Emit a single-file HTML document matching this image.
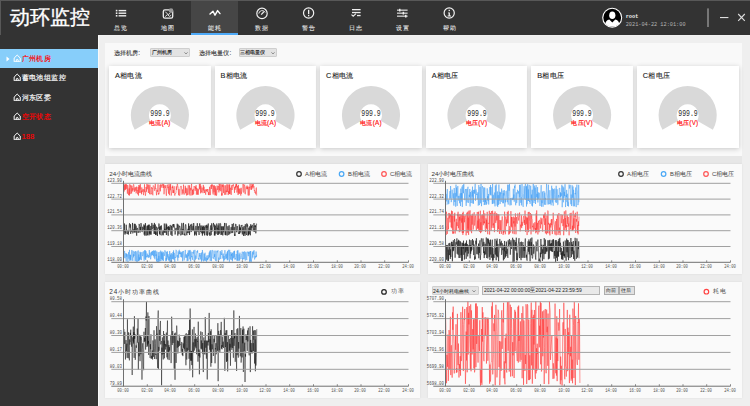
<!DOCTYPE html><html><head><meta charset="utf-8"><style>
*{margin:0;padding:0;box-sizing:border-box}
html,body{width:750px;height:406px;overflow:hidden;background:#e6e6e6;font-family:"Liberation Sans",sans-serif}
.a{position:absolute}
.t{position:absolute;white-space:nowrap;line-height:1}
</style></head><body>
<div class="a" style="left:0;top:0;width:750px;height:35px;background:#333;border-top:1px solid #585858;border-left:1px solid #585858"></div>
<div class="t" style="left:10px;top:7.8px;font-size:19.5px;color:#fff;-webkit-text-stroke:0.35px #fff">动环监控</div>
<div class="a" style="left:191px;top:1px;width:47px;height:34px;background:#464646"></div>
<div class="a" style="left:191px;top:33px;width:47px;height:2px;background:#4eaaf8"></div>
<div class="t" style="left:100.5px;width:40px;text-align:center;top:25.7px;font-size:5.6px;letter-spacing:1.8px;text-indent:1.8px;color:#f0f0f0;-webkit-text-stroke:0.06px #eee">总览</div>
<div class="t" style="left:147.5px;width:40px;text-align:center;top:25.7px;font-size:5.6px;letter-spacing:1.8px;text-indent:1.8px;color:#f0f0f0;-webkit-text-stroke:0.06px #eee">地图</div>
<div class="t" style="left:194.5px;width:40px;text-align:center;top:25.7px;font-size:5.6px;letter-spacing:1.8px;text-indent:1.8px;color:#f0f0f0;-webkit-text-stroke:0.06px #eee">能耗</div>
<div class="t" style="left:241.5px;width:40px;text-align:center;top:25.7px;font-size:5.6px;letter-spacing:1.8px;text-indent:1.8px;color:#f0f0f0;-webkit-text-stroke:0.06px #eee">数据</div>
<div class="t" style="left:288.5px;width:40px;text-align:center;top:25.7px;font-size:5.6px;letter-spacing:1.8px;text-indent:1.8px;color:#f0f0f0;-webkit-text-stroke:0.06px #eee">警告</div>
<div class="t" style="left:335.5px;width:40px;text-align:center;top:25.7px;font-size:5.6px;letter-spacing:1.8px;text-indent:1.8px;color:#f0f0f0;-webkit-text-stroke:0.06px #eee">日志</div>
<div class="t" style="left:382.5px;width:40px;text-align:center;top:25.7px;font-size:5.6px;letter-spacing:1.8px;text-indent:1.8px;color:#f0f0f0;-webkit-text-stroke:0.06px #eee">设置</div>
<div class="t" style="left:429.5px;width:40px;text-align:center;top:25.7px;font-size:5.6px;letter-spacing:1.8px;text-indent:1.8px;color:#f0f0f0;-webkit-text-stroke:0.06px #eee">帮助</div>
<svg class="a" style="left:0;top:0" width="750" height="35" viewBox="0 0 750 35">
<g fill="#eee">
<rect x="115.8" y="9.8" width="1.6" height="1.6"/><rect x="115.8" y="12.4" width="1.6" height="1.6"/><rect x="115.8" y="15" width="1.6" height="1.6"/>
<rect x="118.6" y="9.9" width="7.6" height="1.4"/><rect x="118.6" y="12.5" width="7.6" height="1.4"/><rect x="118.6" y="15.1" width="7.6" height="1.4"/>
</g>
<g fill="none" stroke="#eee" stroke-width="1.1">
<rect x="163.3" y="9.9" width="9.4" height="8.3" rx="1.6" stroke-width="1.3"/>
<path d="M165.2 11.6 L168.2 14.6 L170.2 13.2" stroke-width="0.9"/><path d="M165.2 16.6 L167.4 14.6 L169.6 16.4 L171.2 15.2" stroke-width="0.9"/>
<circle cx="171" cy="10.6" r="2.3" fill="#9a9a9a" stroke="none"/>
</g>
<path d="M210 14 L213 11.2 L215 15.2 L217.6 10.6 L220 13.6" fill="none" stroke="#fff" stroke-width="1.4" stroke-linejoin="round" stroke-linecap="round"/>
<g fill="none" stroke="#f2f2f2" stroke-width="1.2">
<circle cx="262" cy="13.4" r="5.2"/>
<path d="M258.8 13.6 A3.4 3.4 0 0 1 265.2 12.4" stroke-width="0.9"/>
<path d="M261.2 14.6 L264 11.6" stroke-width="1.3"/>
<circle cx="308.6" cy="13" r="5.1"/>
</g>
<rect x="308" y="9.8" width="1.3" height="4.4" fill="#f2f2f2"/><rect x="308" y="15" width="1.3" height="1.3" fill="#f2f2f2"/>
<g fill="#eee">
<rect x="352" y="9" width="8.6" height="1.3"/><rect x="352" y="11.9" width="8.6" height="1.3"/>
<rect x="357" y="14.9" width="3.6" height="1.3"/>
</g>
<path d="M351.5 14.6 L353.2 16.2 L356 13.6" fill="none" stroke="#eee" stroke-width="1.1"/>
<g fill="#eee">
<rect x="397" y="9.6" width="10.6" height="1.1"/><rect x="397" y="12.6" width="10.6" height="1.1"/><rect x="397" y="15.6" width="10.6" height="1.1"/>
<rect x="399" y="8.8" width="1.5" height="2.7"/><rect x="402.6" y="11.8" width="1.5" height="2.7"/><rect x="405" y="14.8" width="1.5" height="2.7"/>
</g>
<circle cx="449.2" cy="13" r="5.1" fill="none" stroke="#f2f2f2" stroke-width="1.2"/>
<rect x="448.6" y="9.8" width="1.3" height="1.3" fill="#f2f2f2"/><path d="M448 12.4 H449.9 V15.6 H451 V16.5 H447.6 V15.6 H448.6 V13.2 H448 Z" fill="#f2f2f2"/>
<circle cx="612.2" cy="17.7" r="10" fill="#fff"/>
<circle cx="612.2" cy="17.7" r="8.9" fill="#000"/>
<ellipse cx="612.3" cy="15.2" rx="3.1" ry="3.8" fill="#fff"/>
<path d="M605.3 24 Q605.8 20.4 609.3 19.6 L612.3 22.6 L615.3 19.6 Q618.8 20.4 619.2 24 Q616.3 26.6 612.3 26.6 Q608.3 26.6 605.3 24 Z" fill="#fff"/>
<rect x="707" y="8.4" width="2" height="18.6" fill="#777"/>
<rect x="720" y="17" width="8.4" height="1.1" fill="#ddd"/>
<path d="M738.2 14 L744.8 20.8 M744.8 14 L738.2 20.8" stroke="#ddd" stroke-width="1.1"/>
</svg>
<div class="t" style="left:625.7px;top:15.3px;font-family:'Liberation Mono';font-weight:bold;font-size:5.3px;color:#eee">root</div>
<div class="t" style="left:625.7px;top:23.3px;font-family:'Liberation Mono';font-size:5.25px;color:#b4b4b4">2021-04-22 12:01:00</div>
<div class="a" style="left:0;top:35px;width:98px;height:371px;background:#333"></div>
<div class="a" style="left:0;top:49px;width:98px;height:19px;background:#87cefa"></div>
<svg class="a" style="left:12.7px;top:53.6px" width="8.4" height="8.4" viewBox="0 0 8 8"><path d="M1.1 7.4 V3.9 L4 1 L6.9 3.9 V7.4 Z M3.1 7.4 V5.6 Q4 4.6 4.9 5.6 V7.4" fill="none" stroke="#fff" stroke-width="0.95" stroke-linejoin="round"/></svg>
<div class="t" style="left:21.8px;top:54.6px;font-size:7px;letter-spacing:0.35px;color:#f00;-webkit-text-stroke:0.18px #f00">广州机房</div>
<svg class="a" style="left:12.7px;top:73.1px" width="8.4" height="8.4" viewBox="0 0 8 8"><path d="M1.1 7.4 V3.9 L4 1 L6.9 3.9 V7.4 Z M3.1 7.4 V5.6 Q4 4.6 4.9 5.6 V7.4" fill="none" stroke="#fff" stroke-width="0.95" stroke-linejoin="round"/></svg>
<div class="t" style="left:21.8px;top:74.1px;font-size:7px;letter-spacing:0.35px;color:#fff;-webkit-text-stroke:0.18px #fff">蓄电池组监控</div>
<svg class="a" style="left:12.7px;top:92.6px" width="8.4" height="8.4" viewBox="0 0 8 8"><path d="M1.1 7.4 V3.9 L4 1 L6.9 3.9 V7.4 Z M3.1 7.4 V5.6 Q4 4.6 4.9 5.6 V7.4" fill="none" stroke="#fff" stroke-width="0.95" stroke-linejoin="round"/></svg>
<div class="t" style="left:21.8px;top:93.6px;font-size:7px;letter-spacing:0.35px;color:#fff;-webkit-text-stroke:0.18px #fff">河东区委</div>
<svg class="a" style="left:12.7px;top:112.1px" width="8.4" height="8.4" viewBox="0 0 8 8"><path d="M1.1 7.4 V3.9 L4 1 L6.9 3.9 V7.4 Z M3.1 7.4 V5.6 Q4 4.6 4.9 5.6 V7.4" fill="none" stroke="#fff" stroke-width="0.95" stroke-linejoin="round"/></svg>
<div class="t" style="left:21.8px;top:113.1px;font-size:7px;letter-spacing:0.35px;color:#f00;-webkit-text-stroke:0.18px #f00">空开状态</div>
<svg class="a" style="left:12.7px;top:131.6px" width="8.4" height="8.4" viewBox="0 0 8 8"><path d="M1.1 7.4 V3.9 L4 1 L6.9 3.9 V7.4 Z M3.1 7.4 V5.6 Q4 4.6 4.9 5.6 V7.4" fill="none" stroke="#fff" stroke-width="0.95" stroke-linejoin="round"/></svg>
<div class="t" style="left:21.8px;top:132.6px;font-size:7px;letter-spacing:0.35px;color:#f00;-webkit-text-stroke:0.18px #f00">188</div>
<svg class="a" style="left:6px;top:55.5px" width="4" height="6"><path d="M0.5 0.5 L3.5 3 L0.5 5.5 Z" fill="#fff"/></svg>
<div class="a" style="left:98px;top:35px;width:652px;height:371px;background:#efefef;border-left:1px solid #fafafa;border-top:1px solid #f2f2f2"></div>
<div class="a" style="left:105px;top:43px;width:637px;height:113px;background:#f9f9f9"></div>
<div class="t" style="left:113.5px;top:49.8px;font-size:6.3px;letter-spacing:0.2px;color:#333;-webkit-text-stroke:0.1px #333">选择机房<span style="letter-spacing:0">:</span></div>
<div class="a" style="left:150px;top:48px;width:40px;height:8.8px;background:#e3e3e3;border:0.6px solid #cfcfcf;border-radius:1px"></div>
<div class="t" style="left:151.6px;top:51.3px;font-size:4.9px;font-weight:normal;color:#111;-webkit-text-stroke:0.12px #111">广州机房</div>
<svg class="a" style="left:183.8px;top:52.1px" width="5" height="3"><path d="M0.4 0.4 L2 1.9 L3.6 0.4" fill="none" stroke="#666" stroke-width="0.7"/></svg>
<div class="t" style="left:198.5px;top:49.8px;font-size:6.3px;letter-spacing:0.2px;color:#333;-webkit-text-stroke:0.1px #333">选择电量仪<span style="letter-spacing:0">:</span></div>
<div class="a" style="left:238.5px;top:48px;width:38.5px;height:8.8px;background:#e3e3e3;border:0.6px solid #cfcfcf;border-radius:1px"></div>
<div class="t" style="left:240.1px;top:51.3px;font-size:4.9px;font-weight:normal;color:#111;-webkit-text-stroke:0.12px #111">三相电量仪</div>
<svg class="a" style="left:270.8px;top:52.1px" width="5" height="3"><path d="M0.4 0.4 L2 1.9 L3.6 0.4" fill="none" stroke="#666" stroke-width="0.7"/></svg>
<div class="a" style="left:109.0px;top:66px;width:101.8px;height:82px;background:#fff;box-shadow:0 1px 5px rgba(0,0,0,0.2)"></div>
<div class="t" style="left:115.0px;top:71.8px;font-size:7.3px;letter-spacing:0.3px;color:#1a1a1a;-webkit-text-stroke:0.1px #1a1a1a">A相电流</div>
<svg class="a" style="left:0;top:0" width="750" height="160"><path d="M134.70 129.75 A29.1 29.1 0 1 1 185.10 129.75 L169.43 120.70 A11 11 0 1 0 150.37 120.70 Z" fill="#d9d9d9"/></svg>
<div class="t" style="left:139.9px;width:40px;text-align:center;top:110.4px;font-family:Liberation Mono;font-size:9px;transform:scaleX(0.72);color:#2a2a2a">999.9</div>
<div class="t" style="left:144.9px;width:30px;text-align:center;top:120.3px;font-size:6.3px;letter-spacing:0.25px;color:#f11;-webkit-text-stroke:0.15px #f11">电流(A)</div>
<div class="a" style="left:214.55px;top:66px;width:101.8px;height:82px;background:#fff;box-shadow:0 1px 5px rgba(0,0,0,0.2)"></div>
<div class="t" style="left:220.55px;top:71.8px;font-size:7.3px;letter-spacing:0.3px;color:#1a1a1a;-webkit-text-stroke:0.1px #1a1a1a">B相电流</div>
<svg class="a" style="left:0;top:0" width="750" height="160"><path d="M240.25 129.75 A29.1 29.1 0 1 1 290.65 129.75 L274.98 120.70 A11 11 0 1 0 255.92 120.70 Z" fill="#d9d9d9"/></svg>
<div class="t" style="left:245.45px;width:40px;text-align:center;top:110.4px;font-family:Liberation Mono;font-size:9px;transform:scaleX(0.72);color:#2a2a2a">999.9</div>
<div class="t" style="left:250.45px;width:30px;text-align:center;top:120.3px;font-size:6.3px;letter-spacing:0.25px;color:#f11;-webkit-text-stroke:0.15px #f11">电流(A)</div>
<div class="a" style="left:320.1px;top:66px;width:101.8px;height:82px;background:#fff;box-shadow:0 1px 5px rgba(0,0,0,0.2)"></div>
<div class="t" style="left:326.1px;top:71.8px;font-size:7.3px;letter-spacing:0.3px;color:#1a1a1a;-webkit-text-stroke:0.1px #1a1a1a">C相电流</div>
<svg class="a" style="left:0;top:0" width="750" height="160"><path d="M345.80 129.75 A29.1 29.1 0 1 1 396.20 129.75 L380.53 120.70 A11 11 0 1 0 361.47 120.70 Z" fill="#d9d9d9"/></svg>
<div class="t" style="left:351.0px;width:40px;text-align:center;top:110.4px;font-family:Liberation Mono;font-size:9px;transform:scaleX(0.72);color:#2a2a2a">999.9</div>
<div class="t" style="left:356.0px;width:30px;text-align:center;top:120.3px;font-size:6.3px;letter-spacing:0.25px;color:#f11;-webkit-text-stroke:0.15px #f11">电流(A)</div>
<div class="a" style="left:425.65px;top:66px;width:101.8px;height:82px;background:#fff;box-shadow:0 1px 5px rgba(0,0,0,0.2)"></div>
<div class="t" style="left:431.65px;top:71.8px;font-size:7.3px;letter-spacing:0.3px;color:#1a1a1a;-webkit-text-stroke:0.1px #1a1a1a">A相电压</div>
<svg class="a" style="left:0;top:0" width="750" height="160"><path d="M451.35 129.75 A29.1 29.1 0 1 1 501.75 129.75 L486.08 120.70 A11 11 0 1 0 467.02 120.70 Z" fill="#d9d9d9"/></svg>
<div class="t" style="left:456.54999999999995px;width:40px;text-align:center;top:110.4px;font-family:Liberation Mono;font-size:9px;transform:scaleX(0.72);color:#2a2a2a">999.9</div>
<div class="t" style="left:461.54999999999995px;width:30px;text-align:center;top:120.3px;font-size:6.3px;letter-spacing:0.25px;color:#f11;-webkit-text-stroke:0.15px #f11">电压(V)</div>
<div class="a" style="left:531.2px;top:66px;width:101.8px;height:82px;background:#fff;box-shadow:0 1px 5px rgba(0,0,0,0.2)"></div>
<div class="t" style="left:537.2px;top:71.8px;font-size:7.3px;letter-spacing:0.3px;color:#1a1a1a;-webkit-text-stroke:0.1px #1a1a1a">B相电压</div>
<svg class="a" style="left:0;top:0" width="750" height="160"><path d="M556.90 129.75 A29.1 29.1 0 1 1 607.30 129.75 L591.63 120.70 A11 11 0 1 0 572.57 120.70 Z" fill="#d9d9d9"/></svg>
<div class="t" style="left:562.1px;width:40px;text-align:center;top:110.4px;font-family:Liberation Mono;font-size:9px;transform:scaleX(0.72);color:#2a2a2a">999.9</div>
<div class="t" style="left:567.1px;width:30px;text-align:center;top:120.3px;font-size:6.3px;letter-spacing:0.25px;color:#f11;-webkit-text-stroke:0.15px #f11">电压(V)</div>
<div class="a" style="left:636.75px;top:66px;width:101.8px;height:82px;background:#fff;box-shadow:0 1px 5px rgba(0,0,0,0.2)"></div>
<div class="t" style="left:642.75px;top:71.8px;font-size:7.3px;letter-spacing:0.3px;color:#1a1a1a;-webkit-text-stroke:0.1px #1a1a1a">C相电压</div>
<svg class="a" style="left:0;top:0" width="750" height="160"><path d="M662.45 129.75 A29.1 29.1 0 1 1 712.85 129.75 L697.18 120.70 A11 11 0 1 0 678.12 120.70 Z" fill="#d9d9d9"/></svg>
<div class="t" style="left:667.65px;width:40px;text-align:center;top:110.4px;font-family:Liberation Mono;font-size:9px;transform:scaleX(0.72);color:#2a2a2a">999.9</div>
<div class="t" style="left:672.65px;width:30px;text-align:center;top:120.3px;font-size:6.3px;letter-spacing:0.25px;color:#f11;-webkit-text-stroke:0.15px #f11">电压(V)</div>
<div class="a" style="left:105px;top:156px;width:637px;height:242px;background:#ececec"></div>
<div class="a" style="left:105px;top:156px;width:637px;height:8px;background:#e7e7e7"></div>
<div class="a" style="left:105px;top:164px;width:315px;height:110px;background:#fafafa;box-shadow:0 0 2px rgba(0,0,0,0.08)"></div>
<div class="a" style="left:428px;top:164px;width:314px;height:110px;background:#fafafa;box-shadow:0 0 2px rgba(0,0,0,0.08)"></div>
<div class="a" style="left:105px;top:282px;width:315px;height:116px;background:#fafafa;box-shadow:0 0 2px rgba(0,0,0,0.08)"></div>
<div class="a" style="left:428px;top:282px;width:314px;height:116px;background:#fafafa;box-shadow:0 0 2px rgba(0,0,0,0.08)"></div>
<svg class="a" style="left:0;top:0" width="750" height="406"><polyline points="123.50,187.55 123.80,185.44 124.10,191.54 124.40,184.48 124.70,190.14 125.00,188.06 125.30,184.31 125.60,189.79 125.90,184.06 126.20,188.89 126.50,184.45 126.80,184.71 127.10,188.78 127.40,193.69 127.70,185.11 128.00,186.32 128.30,191.25 128.60,195.16 128.90,190.64 129.20,188.44 129.50,195.51 129.80,184.17 130.10,194.07 130.40,187.13 130.70,185.36 131.00,185.04 131.30,187.36 131.60,193.56 131.90,185.80 132.20,190.70 132.50,191.39 132.80,188.14 133.10,190.28 133.40,184.37 133.70,184.33 134.00,186.11 134.30,191.90 134.60,188.82 134.90,187.43 135.20,190.74 135.50,189.13 135.80,187.26 136.10,193.29 136.40,192.13 136.70,186.58 137.00,190.61 137.30,190.01 137.60,194.28 137.90,192.50 138.20,187.11 138.50,195.56 138.80,185.04 139.10,188.70 139.40,192.84 139.70,185.45 140.00,189.57 140.30,184.08 140.60,191.75 140.90,192.93 141.20,190.59 141.50,194.28 141.80,187.43 142.10,192.08 142.40,190.85 142.70,190.67 143.00,189.17 143.30,193.85 143.60,195.13 143.90,189.38 144.20,191.70 144.50,184.34 144.80,192.16 145.10,191.49 145.40,195.72 145.70,193.63 146.00,187.07 146.30,188.31 146.60,191.76 146.90,183.88 147.20,189.23 147.50,185.65 147.80,185.03 148.10,184.32 148.40,192.97 148.70,185.18 149.00,186.62 149.30,188.37 149.60,194.23 149.90,184.58 150.20,189.08 150.50,190.30 150.80,194.38 151.10,193.60 151.40,194.14 151.70,187.00 152.00,188.67 152.30,187.98 152.60,194.39 152.90,195.28 153.20,185.44 153.50,185.75 153.80,186.43 154.10,186.45 154.40,189.52 154.70,190.79 155.00,186.81 155.30,183.65 155.60,188.71 155.90,188.10 156.20,190.51 156.50,195.23 156.80,192.02 157.10,189.89 157.40,191.13 157.70,191.85 158.00,184.26 158.30,194.57 158.60,193.12 158.90,194.27 159.20,193.33 159.50,188.39 159.80,188.47 160.10,184.86 160.40,191.34 160.70,184.36 161.00,184.42 161.30,186.15 161.60,185.58 161.90,187.75 162.20,184.24 162.50,183.60 162.80,185.45 163.10,184.84 163.40,188.04 163.70,183.91 164.00,194.27 164.30,191.09 164.60,185.41 164.90,186.68 165.20,187.84 165.50,188.04 165.80,185.10 166.10,193.96 166.40,195.72 166.70,189.29 167.00,189.50 167.30,184.65 167.60,184.85 167.90,187.78 168.20,186.83 168.50,193.71 168.80,185.57 169.10,183.88 169.40,195.20 169.70,190.04 170.00,185.39 170.30,190.23 170.60,183.93 170.90,190.04 171.20,195.54 171.50,194.13 171.80,192.09 172.10,186.79 172.40,188.07 172.70,185.64 173.00,193.02 173.30,190.10 173.60,193.10 173.90,187.62 174.20,186.32 174.50,193.50 174.80,195.62 175.10,194.00 175.40,193.43 175.70,193.58 176.00,192.63 176.30,186.37 176.60,189.92 176.90,187.94 177.20,183.95 177.50,183.94 177.80,187.01 178.10,186.76 178.40,192.05 178.70,195.27 179.00,189.06 179.30,195.03 179.60,195.65 179.90,195.25 180.20,188.05 180.50,186.29 180.80,186.37 181.10,186.00 181.40,186.09 181.70,191.21 182.00,194.58 182.30,193.85 182.60,189.45 182.90,191.57 183.20,193.36 183.50,184.63 183.80,191.66 184.10,194.70 184.40,193.14 184.70,192.75 185.00,189.43 185.30,185.78 185.60,193.23 185.90,187.66 186.20,193.37 186.50,195.45 186.80,188.43 187.10,188.50 187.40,195.15 187.70,192.44 188.00,185.67 188.30,185.15 188.60,185.44 188.90,194.64 189.20,193.44 189.50,185.38 189.80,193.68 190.10,195.56 190.40,191.62 190.70,187.87 191.00,190.29 191.30,185.20 191.60,183.77 191.90,195.44 192.20,191.53 192.50,190.02 192.80,194.99 193.10,188.89 193.40,194.24 193.70,193.68 194.00,186.17 194.30,186.67 194.60,187.17 194.90,186.53 195.20,190.75 195.50,186.76 195.80,188.71 196.10,185.20 196.40,194.70 196.70,187.92 197.00,189.19 197.30,190.72 197.60,194.63 197.90,188.73 198.20,194.80 198.50,189.72 198.80,190.09 199.10,189.99 199.40,183.83 199.70,188.97 200.00,185.83 200.30,183.65 200.60,193.35 200.90,185.70 201.20,189.38 201.50,192.45 201.80,190.39 202.10,187.58 202.40,189.92 202.70,190.38 203.00,193.17 203.30,184.89 203.60,190.44 203.90,186.63 204.20,186.98 204.50,193.02 204.80,189.79 205.10,190.45 205.40,192.87 205.70,194.73 206.00,189.01 206.30,191.07 206.60,189.77 206.90,189.85 207.20,192.05 207.50,189.12 207.80,190.11 208.10,189.43 208.40,195.09 208.70,192.13 209.00,194.29 209.30,195.09 209.60,186.77 209.90,190.43 210.20,195.11 210.50,193.85 210.80,185.27 211.10,185.08 211.40,188.99 211.70,184.49 212.00,186.54 212.30,184.49 212.60,191.77 212.90,193.16 213.20,194.54 213.50,185.48 213.80,192.34 214.10,191.66 214.40,185.34 214.70,194.37 215.00,195.40 215.30,186.28 215.60,195.22 215.90,188.46 216.20,189.54 216.50,195.68 216.80,193.76 217.10,185.57 217.40,188.86 217.70,189.89 218.00,187.74 218.30,185.99 218.60,187.49 218.90,192.41 219.20,183.84 219.50,190.36 219.80,188.97 220.10,183.82 220.40,187.64 220.70,191.21 221.00,189.85 221.30,184.38 221.60,195.62 221.90,193.22 222.20,195.45 222.50,184.88 222.80,186.84 223.10,184.08 223.40,193.10 223.70,186.90 224.00,185.18 224.30,188.75 224.60,194.72 224.90,193.59 225.20,186.76 225.50,185.42 225.80,194.81 226.10,190.56 226.40,192.15 226.70,184.69 227.00,184.30 227.30,192.00 227.60,188.79 227.90,184.48 228.20,195.05 228.50,191.34 228.80,193.38 229.10,184.62 229.40,194.05 229.70,184.41 230.00,194.13 230.30,189.14 230.60,187.74 230.90,190.35 231.20,194.91 231.50,186.87 231.80,185.18 232.10,190.03 232.40,186.51 232.70,184.94 233.00,185.57 233.30,184.21 233.60,186.06 233.90,187.41 234.20,187.32 234.50,192.87 234.80,187.14 235.10,189.70 235.40,185.77 235.70,187.83 236.00,183.82 236.30,186.66 236.60,183.79 236.90,192.54 237.20,190.32 237.50,185.91 237.80,189.39 238.10,195.00 238.40,184.90 238.70,193.59 239.00,188.87 239.30,189.64 239.60,193.78 239.90,188.40 240.20,189.78 240.50,191.99 240.80,195.59 241.10,187.78 241.40,193.75 241.70,192.22 242.00,191.36 242.30,188.54 242.60,187.84 242.90,184.26 243.20,185.18 243.50,184.46 243.80,192.64 244.10,186.72 244.40,185.59 244.70,184.63 245.00,193.86 245.30,194.22 245.60,191.78 245.90,187.04 246.20,186.55 246.50,187.18 246.80,189.21 247.10,185.52 247.40,189.04 247.70,186.81 248.00,195.33 248.30,195.47 248.60,190.27 248.90,186.58 249.20,195.38 249.50,187.38 249.80,187.95 250.10,183.61 250.40,188.26 250.70,189.39 251.00,189.73 251.30,186.05 251.60,189.76 251.90,183.66 252.20,186.82 252.50,184.69 252.80,188.47 253.10,184.11 253.40,183.87 253.70,187.31 254.00,186.44 254.30,190.74 254.60,190.06 254.90,192.76 255.20,191.62 255.50,192.34 255.80,194.32 256.10,188.35 256.40,187.58 256.70,195.61" fill="none" stroke="#ff2a2a" stroke-width="0.5" stroke-opacity="1"/><polyline points="123.50,224.86 123.80,232.39 124.10,231.33 124.40,223.47 124.70,233.84 125.00,234.58 125.30,231.12 125.60,232.51 125.90,233.54 126.20,224.72 126.50,229.76 126.80,229.51 127.10,233.84 127.40,233.44 127.70,233.73 128.00,230.55 128.30,234.60 128.60,231.85 128.90,231.98 129.20,225.91 129.50,223.31 129.80,224.64 130.10,227.63 130.40,224.27 130.70,233.85 131.00,230.22 131.30,231.12 131.60,231.10 131.90,231.82 132.20,229.31 132.50,222.94 132.80,233.35 133.10,232.70 133.40,229.49 133.70,229.91 134.00,231.54 134.30,223.77 134.60,232.55 134.90,226.20 135.20,223.88 135.50,226.38 135.80,232.45 136.10,225.59 136.40,232.59 136.70,235.68 137.00,229.37 137.30,227.91 137.60,229.18 137.90,231.86 138.20,232.95 138.50,230.98 138.80,231.32 139.10,223.91 139.40,224.83 139.70,226.23 140.00,232.64 140.30,226.89 140.60,230.34 140.90,223.06 141.20,223.69 141.50,226.42 141.80,231.70 142.10,231.97 142.40,231.75 142.70,226.71 143.00,229.67 143.30,228.99 143.60,229.01 143.90,224.45 144.20,234.61 144.50,225.51 144.80,235.71 145.10,235.16 145.40,223.13 145.70,228.91 146.00,233.64 146.30,235.58 146.60,228.79 146.90,226.42 147.20,225.65 147.50,235.29 147.80,225.66 148.10,230.52 148.40,224.76 148.70,229.77 149.00,235.38 149.30,224.64 149.60,233.64 149.90,229.56 150.20,234.52 150.50,232.11 150.80,225.93 151.10,234.66 151.40,229.27 151.70,223.23 152.00,222.95 152.30,229.34 152.60,228.80 152.90,226.86 153.20,224.74 153.50,227.41 153.80,227.04 154.10,233.91 154.40,222.92 154.70,232.73 155.00,233.89 155.30,224.47 155.60,235.04 155.90,232.24 156.20,234.71 156.50,226.70 156.80,227.78 157.10,228.05 157.40,235.98 157.70,230.62 158.00,227.63 158.30,228.51 158.60,226.50 158.90,223.53 159.20,224.23 159.50,233.83 159.80,226.64 160.10,235.16 160.40,226.17 160.70,226.38 161.00,229.59 161.30,225.39 161.60,227.79 161.90,235.43 162.20,234.48 162.50,233.54 162.80,231.16 163.10,234.87 163.40,235.22 163.70,230.09 164.00,232.33 164.30,223.55 164.60,232.49 164.90,228.81 165.20,232.76 165.50,231.34 165.80,226.65 166.10,223.54 166.40,235.04 166.70,224.57 167.00,229.09 167.30,227.40 167.60,226.80 167.90,232.58 168.20,235.69 168.50,226.31 168.80,231.49 169.10,226.84 169.40,230.20 169.70,228.07 170.00,225.09 170.30,225.02 170.60,225.62 170.90,234.77 171.20,229.41 171.50,225.78 171.80,234.77 172.10,235.95 172.40,228.79 172.70,224.73 173.00,225.42 173.30,224.09 173.60,227.38 173.90,224.09 174.20,226.03 174.50,226.28 174.80,230.36 175.10,234.52 175.40,232.72 175.70,228.31 176.00,228.32 176.30,229.77 176.60,227.84 176.90,227.33 177.20,223.71 177.50,226.54 177.80,235.58 178.10,224.55 178.40,229.49 178.70,231.15 179.00,234.20 179.30,225.73 179.60,226.45 179.90,226.15 180.20,228.14 180.50,228.74 180.80,235.40 181.10,234.02 181.40,234.33 181.70,223.19 182.00,223.32 182.30,232.19 182.60,234.63 182.90,229.10 183.20,230.59 183.50,222.90 183.80,228.03 184.10,235.04 184.40,233.72 184.70,234.11 185.00,235.64 185.30,226.15 185.60,224.33 185.90,224.92 186.20,229.74 186.50,231.84 186.80,235.23 187.10,232.35 187.40,231.38 187.70,232.92 188.00,228.89 188.30,230.12 188.60,223.42 188.90,233.15 189.20,225.95 189.50,234.95 189.80,231.36 190.10,226.88 190.40,224.58 190.70,226.20 191.00,231.24 191.30,232.05 191.60,224.37 191.90,223.82 192.20,229.77 192.50,230.54 192.80,227.98 193.10,225.83 193.40,230.77 193.70,223.04 194.00,226.85 194.30,228.94 194.60,235.46 194.90,231.34 195.20,234.48 195.50,229.13 195.80,225.98 196.10,226.14 196.40,235.48 196.70,232.13 197.00,226.93 197.30,223.19 197.60,229.43 197.90,231.74 198.20,228.40 198.50,226.27 198.80,231.64 199.10,235.02 199.40,225.87 199.70,223.35 200.00,227.33 200.30,228.41 200.60,231.84 200.90,225.49 201.20,233.34 201.50,232.58 201.80,229.51 202.10,225.59 202.40,235.61 202.70,226.98 203.00,233.64 203.30,225.92 203.60,225.80 203.90,232.86 204.20,226.76 204.50,235.37 204.80,229.39 205.10,225.35 205.40,225.83 205.70,228.36 206.00,231.62 206.30,235.33 206.60,224.82 206.90,228.05 207.20,225.69 207.50,235.66 207.80,224.76 208.10,223.58 208.40,223.69 208.70,228.05 209.00,234.67 209.30,234.47 209.60,232.50 209.90,235.97 210.20,235.10 210.50,227.21 210.80,225.33 211.10,235.16 211.40,232.68 211.70,223.32 212.00,231.60 212.30,227.86 212.60,227.80 212.90,227.25 213.20,225.12 213.50,222.94 213.80,226.57 214.10,227.50 214.40,235.42 214.70,224.52 215.00,235.53 215.30,225.62 215.60,227.57 215.90,233.66 216.20,233.67 216.50,228.57 216.80,223.55 217.10,229.10 217.40,227.78 217.70,234.95 218.00,225.43 218.30,227.67 218.60,234.65 218.90,223.30 219.20,228.28 219.50,233.53 219.80,232.94 220.10,223.43 220.40,223.36 220.70,223.72 221.00,234.95 221.30,226.27 221.60,232.69 221.90,234.67 222.20,227.34 222.50,226.47 222.80,235.45 223.10,230.98 223.40,226.33 223.70,232.29 224.00,227.05 224.30,226.51 224.60,222.95 224.90,232.80 225.20,234.91 225.50,231.21 225.80,235.26 226.10,223.22 226.40,225.96 226.70,229.12 227.00,235.43 227.30,235.40 227.60,227.96 227.90,226.19 228.20,228.53 228.50,229.36 228.80,235.06 229.10,225.30 229.40,233.41 229.70,232.57 230.00,233.68 230.30,233.02 230.60,230.86 230.90,227.19 231.20,227.09 231.50,227.64 231.80,233.15 232.10,223.94 232.40,225.48 232.70,232.76 233.00,226.14 233.30,223.75 233.60,223.34 233.90,230.14 234.20,227.17 234.50,235.74 234.80,234.47 235.10,235.84 235.40,226.37 235.70,224.00 236.00,224.16 236.30,229.43 236.60,232.20 236.90,228.76 237.20,225.97 237.50,228.36 237.80,231.03 238.10,231.73 238.40,232.70 238.70,234.00 239.00,231.60 239.30,224.49 239.60,233.92 239.90,226.75 240.20,230.33 240.50,227.79 240.80,232.57 241.10,225.51 241.40,226.14 241.70,226.11 242.00,224.91 242.30,234.48 242.60,230.48 242.90,227.18 243.20,228.09 243.50,235.90 243.80,229.55 244.10,225.93 244.40,233.49 244.70,231.46 245.00,235.88 245.30,224.24 245.60,229.12 245.90,233.63 246.20,233.91 246.50,234.88 246.80,223.43 247.10,226.75 247.40,224.46 247.70,225.38 248.00,235.65 248.30,230.54 248.60,235.09 248.90,227.78 249.20,234.25 249.50,228.78 249.80,226.31 250.10,233.09 250.40,235.29 250.70,224.29 251.00,230.71 251.30,231.02 251.60,225.75 251.90,227.73 252.20,224.75 252.50,225.57 252.80,226.24 253.10,230.75 253.40,231.44 253.70,225.57 254.00,223.05 254.30,227.19 254.60,231.79 254.90,225.33 255.20,226.99 255.50,225.56 255.80,233.32 256.10,230.08 256.40,223.73 256.70,224.23" fill="none" stroke="#111" stroke-width="0.6" stroke-opacity="1"/><polyline points="123.50,254.62 123.80,256.51 124.10,257.60 124.40,250.91 124.70,251.80 125.00,258.28 125.30,254.80 125.60,253.26 125.90,253.55 126.20,261.43 126.50,253.61 126.80,256.71 127.10,254.16 127.40,254.88 127.70,260.34 128.00,261.96 128.30,254.24 128.60,252.21 128.90,258.68 129.20,252.28 129.50,249.87 129.80,260.80 130.10,254.97 130.40,259.81 130.70,254.76 131.00,260.57 131.30,255.42 131.60,251.78 131.90,249.98 132.20,256.53 132.50,257.62 132.80,260.90 133.10,250.89 133.40,257.39 133.70,254.32 134.00,255.95 134.30,251.58 134.60,253.26 134.90,256.16 135.20,261.09 135.50,251.13 135.80,255.78 136.10,259.62 136.40,261.60 136.70,252.21 137.00,251.35 137.30,261.31 137.60,261.70 137.90,255.69 138.20,250.45 138.50,261.10 138.80,254.53 139.10,260.83 139.40,257.37 139.70,259.86 140.00,251.76 140.30,259.39 140.60,252.51 140.90,254.73 141.20,260.13 141.50,259.92 141.80,252.03 142.10,252.46 142.40,254.68 142.70,256.12 143.00,254.48 143.30,251.30 143.60,252.81 143.90,258.64 144.20,260.75 144.50,250.30 144.80,256.66 145.10,259.04 145.40,250.27 145.70,260.03 146.00,251.24 146.30,257.11 146.60,256.51 146.90,257.45 147.20,253.54 147.50,254.92 147.80,256.91 148.10,254.99 148.40,257.84 148.70,255.25 149.00,255.15 149.30,250.09 149.60,257.35 149.90,255.77 150.20,252.67 150.50,259.12 150.80,259.32 151.10,255.39 151.40,251.99 151.70,255.57 152.00,251.11 152.30,251.37 152.60,255.05 152.90,250.92 153.20,255.19 153.50,256.02 153.80,250.30 154.10,257.56 154.40,250.80 154.70,258.75 155.00,259.29 155.30,256.04 155.60,250.46 155.90,255.95 156.20,254.41 156.50,261.40 156.80,251.46 157.10,260.26 157.40,261.95 157.70,258.73 158.00,259.74 158.30,252.16 158.60,261.78 158.90,255.80 159.20,261.47 159.50,260.98 159.80,251.81 160.10,259.42 160.40,261.15 160.70,250.60 161.00,254.08 161.30,259.03 161.60,251.74 161.90,260.74 162.20,253.15 162.50,259.75 162.80,251.55 163.10,255.93 163.40,261.02 163.70,252.34 164.00,253.01 164.30,255.97 164.60,253.69 164.90,250.25 165.20,252.02 165.50,251.77 165.80,261.22 166.10,258.09 166.40,260.72 166.70,251.86 167.00,259.38 167.30,251.20 167.60,256.27 167.90,257.56 168.20,254.19 168.50,260.45 168.80,256.57 169.10,256.88 169.40,260.57 169.70,251.08 170.00,261.91 170.30,257.48 170.60,254.61 170.90,259.53 171.20,253.03 171.50,261.88 171.80,256.84 172.10,254.20 172.40,259.13 172.70,255.20 173.00,251.96 173.30,258.87 173.60,250.39 173.90,259.80 174.20,252.89 174.50,257.60 174.80,261.81 175.10,256.95 175.40,257.90 175.70,253.61 176.00,249.82 176.30,250.21 176.60,251.62 176.90,257.32 177.20,255.07 177.50,256.05 177.80,260.73 178.10,251.41 178.40,252.57 178.70,257.77 179.00,250.07 179.30,249.83 179.60,254.13 179.90,251.10 180.20,254.16 180.50,252.54 180.80,256.92 181.10,256.99 181.40,252.29 181.70,257.41 182.00,255.59 182.30,251.44 182.60,261.23 182.90,252.77 183.20,251.62 183.50,250.97 183.80,257.59 184.10,260.43 184.40,259.34 184.70,254.70 185.00,253.02 185.30,249.94 185.60,257.67 185.90,256.66 186.20,254.07 186.50,257.68 186.80,255.21 187.10,261.23 187.40,258.75 187.70,252.83 188.00,260.82 188.30,250.34 188.60,256.28 188.90,254.75 189.20,252.70 189.50,250.51 189.80,259.30 190.10,249.95 190.40,256.52 190.70,261.28 191.00,251.54 191.30,252.23 191.60,257.22 191.90,255.98 192.20,257.63 192.50,259.72 192.80,251.93 193.10,253.57 193.40,253.46 193.70,250.39 194.00,260.65 194.30,259.35 194.60,258.53 194.90,249.88 195.20,260.10 195.50,258.89 195.80,255.48 196.10,258.85 196.40,255.32 196.70,252.56 197.00,251.08 197.30,252.63 197.60,250.27 197.90,253.89 198.20,258.95 198.50,258.28 198.80,260.11 199.10,258.48 199.40,253.05 199.70,256.56 200.00,255.12 200.30,259.42 200.60,256.18 200.90,253.04 201.20,257.63 201.50,261.57 201.80,252.45 202.10,260.54 202.40,249.99 202.70,252.98 203.00,252.68 203.30,258.88 203.60,261.33 203.90,258.90 204.20,253.79 204.50,260.54 204.80,253.81 205.10,252.72 205.40,260.87 205.70,257.49 206.00,258.25 206.30,257.92 206.60,261.74 206.90,255.53 207.20,260.04 207.50,258.31 207.80,260.26 208.10,255.13 208.40,258.64 208.70,256.76 209.00,253.55 209.30,252.39 209.60,257.40 209.90,250.75 210.20,260.91 210.50,251.56 210.80,250.13 211.10,251.10 211.40,261.13 211.70,254.01 212.00,251.53 212.30,250.15 212.60,250.31 212.90,258.25 213.20,257.53 213.50,258.30 213.80,258.79 214.10,250.60 214.40,257.00 214.70,254.23 215.00,259.77 215.30,259.80 215.60,260.67 215.90,250.60 216.20,260.39 216.50,260.96 216.80,261.32 217.10,251.11 217.40,252.31 217.70,251.17 218.00,250.22 218.30,260.14 218.60,259.71 218.90,257.54 219.20,259.87 219.50,257.50 219.80,253.31 220.10,251.02 220.40,250.99 220.70,259.04 221.00,252.30 221.30,253.69 221.60,254.97 221.90,250.06 222.20,252.93 222.50,253.25 222.80,258.53 223.10,254.29 223.40,253.71 223.70,261.56 224.00,255.95 224.30,260.19 224.60,257.34 224.90,250.18 225.20,254.84 225.50,255.12 225.80,259.23 226.10,254.03 226.40,258.40 226.70,256.36 227.00,252.44 227.30,260.32 227.60,250.91 227.90,259.80 228.20,251.88 228.50,249.82 228.80,252.26 229.10,259.10 229.40,261.73 229.70,249.85 230.00,255.79 230.30,255.80 230.60,259.52 230.90,252.05 231.20,255.83 231.50,254.04 231.80,259.95 232.10,252.98 232.40,261.32 232.70,253.26 233.00,252.42 233.30,258.33 233.60,255.88 233.90,251.14 234.20,257.57 234.50,250.79 234.80,259.41 235.10,258.31 235.40,259.40 235.70,257.46 236.00,254.14 236.30,254.70 236.60,254.61 236.90,260.66 237.20,250.85 237.50,260.64 237.80,250.11 238.10,252.31 238.40,253.01 238.70,260.79 239.00,255.91 239.30,254.43 239.60,260.58 239.90,252.65 240.20,255.42 240.50,256.28 240.80,259.00 241.10,258.99 241.40,257.68 241.70,254.05 242.00,253.79 242.30,251.69 242.60,260.09 242.90,257.88 243.20,258.85 243.50,251.87 243.80,255.15 244.10,259.24 244.40,256.87 244.70,251.34 245.00,255.44 245.30,260.60 245.60,252.70 245.90,252.14 246.20,253.48 246.50,258.38 246.80,260.09 247.10,251.69 247.40,251.70 247.70,252.82 248.00,253.78 248.30,256.17 248.60,251.76 248.90,253.80 249.20,252.11 249.50,261.70 249.80,258.69 250.10,251.04 250.40,261.54 250.70,251.04 251.00,254.49 251.30,261.80 251.60,259.50 251.90,258.75 252.20,255.11 252.50,252.19 252.80,257.58 253.10,251.10 253.40,252.32 253.70,254.54 254.00,250.21 254.30,254.67 254.60,259.45 254.90,258.26 255.20,255.91 255.50,257.52 255.80,255.45 256.10,251.53 256.40,257.17 256.70,254.74" fill="none" stroke="#3a9af5" stroke-width="0.5" stroke-opacity="1"/><rect x="111.3" y="182.8" width="297.2" height="1" fill="#a0a0a0"/><rect x="111.3" y="198.60000000000002" width="297.2" height="1" fill="#a0a0a0"/><rect x="111.3" y="214.4" width="297.2" height="1" fill="#a0a0a0"/><rect x="111.3" y="230.20000000000002" width="297.2" height="1" fill="#a0a0a0"/><rect x="111.3" y="246.0" width="297.2" height="1" fill="#a0a0a0"/><rect x="111.3" y="261.8" width="297.2" height="1" fill="#707070"/><rect x="123.0" y="180.8" width="1" height="81.5" fill="#707070"/><rect x="123.1" y="260.3" width="0.8" height="2" fill="#707070"/><rect x="146.85" y="260.3" width="0.8" height="2" fill="#707070"/><rect x="170.6" y="260.3" width="0.8" height="2" fill="#707070"/><rect x="194.35" y="260.3" width="0.8" height="2" fill="#707070"/><rect x="218.1" y="260.3" width="0.8" height="2" fill="#707070"/><rect x="241.85" y="260.3" width="0.8" height="2" fill="#707070"/><rect x="265.6" y="260.3" width="0.8" height="2" fill="#707070"/><rect x="289.35" y="260.3" width="0.8" height="2" fill="#707070"/><rect x="313.1" y="260.3" width="0.8" height="2" fill="#707070"/><rect x="336.85" y="260.3" width="0.8" height="2" fill="#707070"/><rect x="360.6" y="260.3" width="0.8" height="2" fill="#707070"/><rect x="384.35" y="260.3" width="0.8" height="2" fill="#707070"/><rect x="408.1" y="260.3" width="0.8" height="2" fill="#707070"/><circle cx="299" cy="174" r="2.3" fill="none" stroke="#333" stroke-width="1.2"/><circle cx="341.6" cy="174" r="2.3" fill="none" stroke="#4aa8f5" stroke-width="1.2"/><circle cx="384" cy="174" r="2.3" fill="none" stroke="#f55" stroke-width="1.2"/></svg>
<div class="t" style="left:92.1px;width:30px;text-align:right;top:177.70000000000002px;font-family:Liberation Mono;font-size:6px;transform:scaleX(0.68);transform-origin:100% 50%;color:#4a4a4a">123.90</div>
<div class="t" style="left:92.1px;width:30px;text-align:right;top:193.50000000000003px;font-family:Liberation Mono;font-size:6px;transform:scaleX(0.68);transform-origin:100% 50%;color:#4a4a4a">122.72</div>
<div class="t" style="left:92.1px;width:30px;text-align:right;top:209.3px;font-family:Liberation Mono;font-size:6px;transform:scaleX(0.68);transform-origin:100% 50%;color:#4a4a4a">121.54</div>
<div class="t" style="left:92.1px;width:30px;text-align:right;top:225.10000000000002px;font-family:Liberation Mono;font-size:6px;transform:scaleX(0.68);transform-origin:100% 50%;color:#4a4a4a">120.36</div>
<div class="t" style="left:92.1px;width:30px;text-align:right;top:240.9px;font-family:Liberation Mono;font-size:6px;transform:scaleX(0.68);transform-origin:100% 50%;color:#4a4a4a">119.18</div>
<div class="t" style="left:92.1px;width:30px;text-align:right;top:256.7px;font-family:Liberation Mono;font-size:6px;transform:scaleX(0.68);transform-origin:100% 50%;color:#4a4a4a">118.00</div>
<div class="t" style="left:110.8px;width:24px;text-align:center;top:264.2px;font-family:Liberation Mono;font-size:6px;transform:scaleX(0.65);color:#555">00:00</div>
<div class="t" style="left:134.55px;width:24px;text-align:center;top:264.2px;font-family:Liberation Mono;font-size:6px;transform:scaleX(0.65);color:#555">02:00</div>
<div class="t" style="left:158.3px;width:24px;text-align:center;top:264.2px;font-family:Liberation Mono;font-size:6px;transform:scaleX(0.65);color:#555">04:00</div>
<div class="t" style="left:182.05px;width:24px;text-align:center;top:264.2px;font-family:Liberation Mono;font-size:6px;transform:scaleX(0.65);color:#555">06:00</div>
<div class="t" style="left:205.8px;width:24px;text-align:center;top:264.2px;font-family:Liberation Mono;font-size:6px;transform:scaleX(0.65);color:#555">08:00</div>
<div class="t" style="left:229.55px;width:24px;text-align:center;top:264.2px;font-family:Liberation Mono;font-size:6px;transform:scaleX(0.65);color:#555">10:00</div>
<div class="t" style="left:253.3px;width:24px;text-align:center;top:264.2px;font-family:Liberation Mono;font-size:6px;transform:scaleX(0.65);color:#555">12:00</div>
<div class="t" style="left:277.05px;width:24px;text-align:center;top:264.2px;font-family:Liberation Mono;font-size:6px;transform:scaleX(0.65);color:#555">14:00</div>
<div class="t" style="left:300.8px;width:24px;text-align:center;top:264.2px;font-family:Liberation Mono;font-size:6px;transform:scaleX(0.65);color:#555">16:00</div>
<div class="t" style="left:324.55px;width:24px;text-align:center;top:264.2px;font-family:Liberation Mono;font-size:6px;transform:scaleX(0.65);color:#555">18:00</div>
<div class="t" style="left:348.3px;width:24px;text-align:center;top:264.2px;font-family:Liberation Mono;font-size:6px;transform:scaleX(0.65);color:#555">20:00</div>
<div class="t" style="left:372.05px;width:24px;text-align:center;top:264.2px;font-family:Liberation Mono;font-size:6px;transform:scaleX(0.65);color:#555">22:00</div>
<div class="t" style="left:395.8px;width:24px;text-align:center;top:264.2px;font-family:Liberation Mono;font-size:6px;transform:scaleX(0.65);color:#555">24:00</div>
<div class="t" style="left:109.2px;top:170.8px;font-size:6.2px;color:#333">24小时电流曲线</div>
<div class="t" style="left:305px;top:171.7px;font-size:5.8px;color:#444">A相电流</div>
<div class="t" style="left:348px;top:171.7px;font-size:5.8px;color:#444">B相电流</div>
<div class="t" style="left:390px;top:171.7px;font-size:5.8px;color:#444">C相电流</div>
<svg class="a" style="left:0;top:0" width="750" height="406"><polyline points="445.50,201.19 445.80,205.13 446.10,193.85 446.40,197.25 446.70,201.38 447.00,193.64 447.30,189.09 447.60,200.74 447.90,204.47 448.20,201.97 448.50,200.22 448.80,203.82 449.10,199.74 449.40,198.84 449.70,194.41 450.00,191.09 450.30,198.53 450.60,186.01 450.90,193.60 451.20,202.16 451.50,200.53 451.80,198.56 452.10,189.60 452.40,193.70 452.70,194.44 453.00,198.37 453.30,193.36 453.60,199.64 453.90,205.65 454.20,188.02 454.50,199.15 454.80,202.07 455.10,192.87 455.40,195.26 455.70,206.70 456.00,184.60 456.30,196.52 456.60,187.50 456.90,202.15 457.20,205.90 457.50,195.95 457.80,186.09 458.10,197.26 458.40,196.47 458.70,200.63 459.00,195.79 459.30,198.79 459.60,203.26 459.90,196.01 460.20,193.38 460.50,206.07 460.80,188.66 461.10,199.85 461.40,192.96 461.70,201.70 462.00,186.59 462.30,206.93 462.60,192.09 462.90,185.04 463.20,190.17 463.50,193.13 463.80,184.01 464.10,193.58 464.40,193.62 464.70,200.18 465.00,192.01 465.30,189.96 465.60,189.00 465.90,201.20 466.20,205.88 466.50,196.14 466.80,188.87 467.10,202.62 467.40,192.95 467.70,188.70 468.00,186.75 468.30,202.03 468.60,202.81 468.90,198.67 469.20,194.77 469.50,196.96 469.80,189.03 470.10,206.45 470.40,192.03 470.70,198.78 471.00,203.02 471.30,202.96 471.60,194.75 471.90,190.65 472.20,196.64 472.50,186.65 472.80,203.38 473.10,192.07 473.40,203.78 473.70,190.01 474.00,192.58 474.30,189.68 474.60,193.76 474.90,188.09 475.20,183.76 475.50,200.73 475.80,190.34 476.10,189.48 476.40,190.82 476.70,195.02 477.00,193.81 477.30,198.74 477.60,199.26 477.90,192.25 478.20,205.62 478.50,203.86 478.80,185.05 479.10,203.24 479.40,205.08 479.70,202.20 480.00,187.01 480.30,203.32 480.60,198.64 480.90,184.05 481.20,183.97 481.50,206.16 481.80,199.18 482.10,189.60 482.40,186.10 482.70,187.07 483.00,189.21 483.30,202.02 483.60,191.88 483.90,187.30 484.20,205.04 484.50,202.38 484.80,187.66 485.10,204.73 485.40,198.06 485.70,202.14 486.00,199.48 486.30,204.80 486.60,202.30 486.90,203.50 487.20,188.36 487.50,200.05 487.80,196.23 488.10,201.21 488.40,194.05 488.70,204.53 489.00,196.80 489.30,189.94 489.60,189.23 489.90,186.99 490.20,195.34 490.50,185.08 490.80,194.72 491.10,187.11 491.40,195.30 491.70,195.46 492.00,196.43 492.30,204.06 492.60,183.86 492.90,203.54 493.20,194.74 493.50,196.98 493.80,199.40 494.10,203.54 494.40,192.55 494.70,193.58 495.00,206.37 495.30,185.48 495.60,198.73 495.90,198.71 496.20,184.37 496.50,198.09 496.80,199.81 497.10,205.68 497.40,191.50 497.70,206.87 498.00,195.75 498.30,195.14 498.60,204.88 498.90,184.50 499.20,200.65 499.50,198.46 499.80,191.69 500.10,204.04 500.40,192.34 500.70,194.90 501.00,196.10 501.30,201.89 501.60,188.67 501.90,193.97 502.20,193.67 502.50,196.78 502.80,203.21 503.10,190.61 503.40,203.23 503.70,193.23 504.00,195.59 504.30,190.11 504.60,195.65 504.90,206.71 505.20,199.15 505.50,202.39 505.80,191.51 506.10,191.18 506.40,190.76 506.70,197.54 507.00,198.68 507.30,202.21 507.60,184.65 507.90,200.76 508.20,204.60 508.50,196.57 508.80,184.87 509.10,190.79 509.40,183.85 509.70,188.18 510.00,205.45 510.30,198.06 510.60,199.23 510.90,202.32 511.20,205.17 511.50,198.14 511.80,198.25 512.10,198.49 512.40,200.14 512.70,197.77 513.00,199.77 513.30,188.72 513.60,199.44 513.90,194.51 514.20,201.70 514.50,186.09 514.80,187.98 515.10,184.57 515.40,201.98 515.70,205.27 516.00,199.17 516.30,192.41 516.60,203.11 516.90,202.26 517.20,196.97 517.50,189.79 517.80,190.83 518.10,193.65 518.40,191.22 518.70,193.86 519.00,198.85 519.30,205.74 519.60,184.99 519.90,197.09 520.20,184.63 520.50,186.50 520.80,202.82 521.10,197.28 521.40,205.38 521.70,194.24 522.00,184.03 522.30,192.84 522.60,197.67 522.90,205.83 523.20,206.85 523.50,194.92 523.80,193.43 524.10,186.11 524.40,198.91 524.70,188.71 525.00,187.28 525.30,184.07 525.60,183.81 525.90,199.84 526.20,186.57 526.50,206.51 526.80,185.78 527.10,204.22 527.40,186.74 527.70,184.12 528.00,200.68 528.30,189.42 528.60,201.01 528.90,188.12 529.20,184.88 529.50,201.97 529.80,200.54 530.10,203.89 530.40,200.92 530.70,185.69 531.00,198.54 531.30,200.44 531.60,194.57 531.90,205.70 532.20,189.70 532.50,206.46 532.80,200.63 533.10,183.97 533.40,184.05 533.70,199.06 534.00,202.99 534.30,185.58 534.60,191.04 534.90,200.91 535.20,187.62 535.50,204.02 535.80,195.18 536.10,185.11 536.40,192.37 536.70,197.27 537.00,194.05 537.30,199.67 537.60,187.12 537.90,202.52 538.20,192.27 538.50,198.92 538.80,198.56 539.10,193.56 539.40,192.80 539.70,202.26 540.00,206.00 540.30,202.22 540.60,197.08 540.90,190.60 541.20,185.13 541.50,206.69 541.80,200.30 542.10,203.23 542.40,191.54 542.70,198.00 543.00,206.77 543.30,203.32 543.60,197.89 543.90,190.98 544.20,193.81 544.50,204.66 544.80,192.59 545.10,199.86 545.40,197.90 545.70,204.85 546.00,202.76 546.30,190.39 546.60,183.74 546.90,189.91 547.20,193.67 547.50,197.54 547.80,202.96 548.10,204.64 548.40,184.70 548.70,203.36 549.00,202.86 549.30,204.17 549.60,197.20 549.90,190.16 550.20,203.79 550.50,202.75 550.80,199.86 551.10,205.26 551.40,191.89 551.70,185.71 552.00,196.77 552.30,202.52 552.60,188.43 552.90,201.40 553.20,205.69 553.50,189.22 553.80,198.02 554.10,199.69 554.40,194.68 554.70,188.58 555.00,189.71 555.30,201.43 555.60,202.38 555.90,194.55 556.20,185.77 556.50,202.74 556.80,201.92 557.10,189.20 557.40,197.38 557.70,204.87 558.00,204.59 558.30,196.02 558.60,194.95 558.90,197.61 559.20,188.16 559.50,188.24 559.80,187.96 560.10,200.25 560.40,192.26 560.70,197.02 561.00,193.20 561.30,195.91 561.60,187.22 561.90,184.75 562.20,207.23 562.50,192.53 562.80,186.20 563.10,198.63 563.40,202.28 563.70,187.39 564.00,197.79 564.30,191.84 564.60,195.96 564.90,184.19 565.20,184.49 565.50,207.07 565.80,204.14 566.10,195.18 566.40,197.09 566.70,189.87 567.00,202.09 567.30,193.75 567.60,206.04 567.90,201.81 568.20,203.02 568.50,206.44 568.80,189.69 569.10,184.59 569.40,188.44 569.70,187.97 570.00,185.67 570.30,184.90 570.60,196.85 570.90,204.25 571.20,194.52 571.50,206.05 571.80,205.17 572.10,185.21 572.40,197.81 572.70,193.08 573.00,186.53 573.30,206.34 573.60,189.77 573.90,197.02 574.20,198.82 574.50,206.27 574.80,199.51 575.10,192.98 575.40,194.28 575.70,187.47 576.00,206.49 576.30,207.10 576.60,188.93 576.90,184.61 577.20,189.74 577.50,192.01 577.80,205.01 578.10,205.05 578.40,203.46 578.70,184.81 579.00,202.26" fill="none" stroke="#3a9af5" stroke-width="0.5" stroke-opacity="1"/><polyline points="445.50,228.11 445.80,226.53 446.10,235.03 446.40,211.70 446.70,213.93 447.00,229.25 447.30,233.88 447.60,227.29 447.90,217.80 448.20,225.15 448.50,229.32 448.80,212.95 449.10,218.43 449.40,216.75 449.70,213.42 450.00,222.38 450.30,214.53 450.60,216.29 450.90,213.89 451.20,227.31 451.50,210.62 451.80,228.30 452.10,215.20 452.40,211.20 452.70,233.58 453.00,215.84 453.30,233.74 453.60,232.06 453.90,232.61 454.20,213.81 454.50,221.53 454.80,212.73 455.10,233.61 455.40,231.44 455.70,226.07 456.00,221.65 456.30,218.83 456.60,230.96 456.90,222.29 457.20,226.07 457.50,213.88 457.80,215.86 458.10,211.72 458.40,228.21 458.70,224.19 459.00,213.93 459.30,232.16 459.60,216.99 459.90,220.64 460.20,214.21 460.50,217.10 460.80,231.37 461.10,218.70 461.40,214.51 461.70,222.62 462.00,218.28 462.30,232.97 462.60,213.17 462.90,234.86 463.20,211.73 463.50,232.77 463.80,227.07 464.10,215.60 464.40,222.28 464.70,217.48 465.00,216.77 465.30,215.36 465.60,219.44 465.90,235.17 466.20,235.35 466.50,233.52 466.80,212.75 467.10,217.56 467.40,232.79 467.70,211.74 468.00,228.53 468.30,217.67 468.60,234.86 468.90,210.70 469.20,230.56 469.50,218.86 469.80,213.82 470.10,210.35 470.40,231.19 470.70,223.52 471.00,214.96 471.30,221.22 471.60,233.19 471.90,215.78 472.20,224.64 472.50,213.77 472.80,214.82 473.10,229.64 473.40,228.16 473.70,215.24 474.00,212.29 474.30,212.49 474.60,225.57 474.90,222.74 475.20,217.17 475.50,215.47 475.80,225.67 476.10,228.06 476.40,230.67 476.70,224.93 477.00,215.38 477.30,211.95 477.60,228.69 477.90,220.54 478.20,228.41 478.50,211.69 478.80,230.65 479.10,218.71 479.40,231.43 479.70,232.00 480.00,222.67 480.30,210.69 480.60,233.15 480.90,222.26 481.20,232.19 481.50,216.98 481.80,214.97 482.10,231.17 482.40,219.51 482.70,214.40 483.00,219.62 483.30,225.23 483.60,210.42 483.90,223.35 484.20,221.49 484.50,223.24 484.80,213.33 485.10,228.24 485.40,230.80 485.70,232.02 486.00,218.36 486.30,228.15 486.60,219.87 486.90,229.16 487.20,211.84 487.50,232.21 487.80,234.25 488.10,222.72 488.40,223.18 488.70,223.62 489.00,223.79 489.30,210.82 489.60,234.58 489.90,215.91 490.20,214.88 490.50,212.88 490.80,216.59 491.10,230.81 491.40,211.05 491.70,212.72 492.00,227.84 492.30,215.20 492.60,210.74 492.90,225.34 493.20,224.77 493.50,223.43 493.80,227.94 494.10,212.88 494.40,232.13 494.70,228.30 495.00,211.43 495.30,213.39 495.60,222.69 495.90,222.87 496.20,217.32 496.50,213.36 496.80,220.48 497.10,213.74 497.40,225.15 497.70,231.91 498.00,214.00 498.30,224.68 498.60,229.04 498.90,214.42 499.20,231.03 499.50,233.83 499.80,220.06 500.10,220.85 500.40,231.38 500.70,223.49 501.00,220.23 501.30,233.93 501.60,229.80 501.90,218.80 502.20,216.33 502.50,218.71 502.80,221.23 503.10,234.93 503.40,230.49 503.70,233.21 504.00,230.76 504.30,231.58 504.60,211.64 504.90,223.29 505.20,234.34 505.50,233.75 505.80,216.56 506.10,220.90 506.40,226.18 506.70,219.45 507.00,223.62 507.30,212.04 507.60,221.17 507.90,222.97 508.20,210.82 508.50,213.80 508.80,234.64 509.10,229.79 509.40,233.82 509.70,226.19 510.00,230.61 510.30,232.50 510.60,232.50 510.90,211.16 511.20,226.40 511.50,216.97 511.80,227.33 512.10,217.16 512.40,223.91 512.70,233.50 513.00,225.89 513.30,216.59 513.60,223.36 513.90,221.19 514.20,234.17 514.50,217.52 514.80,217.97 515.10,226.55 515.40,213.32 515.70,225.22 516.00,234.30 516.30,223.20 516.60,217.04 516.90,222.01 517.20,223.70 517.50,214.03 517.80,213.41 518.10,213.60 518.40,217.67 518.70,220.50 519.00,217.54 519.30,216.41 519.60,212.50 519.90,224.01 520.20,231.38 520.50,225.61 520.80,224.61 521.10,226.62 521.40,215.35 521.70,228.13 522.00,221.87 522.30,224.06 522.60,225.68 522.90,222.07 523.20,218.09 523.50,216.38 523.80,215.86 524.10,223.16 524.40,219.92 524.70,225.00 525.00,210.60 525.30,219.15 525.60,231.93 525.90,216.29 526.20,224.27 526.50,222.63 526.80,217.45 527.10,235.09 527.40,217.72 527.70,229.68 528.00,214.28 528.30,211.98 528.60,232.17 528.90,221.34 529.20,211.86 529.50,220.04 529.80,221.34 530.10,228.76 530.40,213.04 530.70,215.95 531.00,234.38 531.30,228.84 531.60,214.18 531.90,218.76 532.20,219.15 532.50,227.25 532.80,225.77 533.10,231.63 533.40,230.91 533.70,223.30 534.00,228.84 534.30,228.96 534.60,229.37 534.90,222.23 535.20,230.00 535.50,228.08 535.80,233.26 536.10,213.49 536.40,232.16 536.70,210.41 537.00,229.52 537.30,225.00 537.60,222.80 537.90,234.46 538.20,224.66 538.50,220.79 538.80,229.97 539.10,232.21 539.40,225.54 539.70,219.83 540.00,221.65 540.30,221.79 540.60,228.45 540.90,217.65 541.20,220.11 541.50,224.24 541.80,219.95 542.10,218.38 542.40,230.06 542.70,231.62 543.00,222.84 543.30,221.45 543.60,214.92 543.90,217.93 544.20,213.94 544.50,224.74 544.80,224.90 545.10,212.51 545.40,233.40 545.70,218.43 546.00,231.47 546.30,231.34 546.60,234.36 546.90,215.43 547.20,221.00 547.50,233.16 547.80,210.57 548.10,211.49 548.40,224.48 548.70,222.78 549.00,233.40 549.30,229.71 549.60,223.82 549.90,235.36 550.20,223.29 550.50,223.28 550.80,227.50 551.10,220.08 551.40,219.28 551.70,225.23 552.00,219.11 552.30,234.09 552.60,227.28 552.90,223.48 553.20,212.78 553.50,219.70 553.80,220.36 554.10,224.39 554.40,224.71 554.70,232.38 555.00,234.51 555.30,222.52 555.60,221.35 555.90,225.98 556.20,235.30 556.50,218.92 556.80,223.61 557.10,230.78 557.40,214.59 557.70,218.28 558.00,234.86 558.30,231.03 558.60,223.17 558.90,213.07 559.20,232.75 559.50,227.62 559.80,230.90 560.10,235.16 560.40,232.59 560.70,220.86 561.00,214.23 561.30,217.58 561.60,223.14 561.90,222.97 562.20,215.02 562.50,214.88 562.80,226.12 563.10,225.44 563.40,219.16 563.70,235.24 564.00,226.28 564.30,211.36 564.60,220.63 564.90,230.07 565.20,218.00 565.50,227.64 565.80,210.40 566.10,217.94 566.40,231.44 566.70,225.01 567.00,227.07 567.30,215.24 567.60,222.80 567.90,224.19 568.20,216.98 568.50,226.53 568.80,223.64 569.10,235.33 569.40,224.72 569.70,220.62 570.00,213.35 570.30,214.23 570.60,229.36 570.90,212.98 571.20,212.81 571.50,214.58 571.80,223.41 572.10,230.96 572.40,225.69 572.70,230.55 573.00,211.86 573.30,210.61 573.60,229.64 573.90,218.40 574.20,228.26 574.50,219.18 574.80,214.55 575.10,216.99 575.40,212.80 575.70,232.99 576.00,224.91 576.30,219.06 576.60,221.59 576.90,219.98 577.20,211.67 577.50,232.65 577.80,224.92 578.10,234.39 578.40,221.33 578.70,225.87 579.00,216.56" fill="none" stroke="#ff2a2a" stroke-width="0.5" stroke-opacity="1"/><polyline points="445.50,238.58 445.80,260.31 446.10,258.44 446.40,245.21 446.70,259.52 447.00,257.49 447.30,244.94 447.60,252.26 447.90,261.02 448.20,249.64 448.50,260.77 448.80,243.45 449.10,247.05 449.40,255.10 449.70,242.92 450.00,245.07 450.30,258.95 450.60,249.37 450.90,256.92 451.20,243.46 451.50,241.75 451.80,246.28 452.10,242.07 452.40,261.30 452.70,244.62 453.00,251.26 453.30,240.31 453.60,250.58 453.90,246.95 454.20,247.38 454.50,239.10 454.80,240.52 455.10,257.73 455.40,246.11 455.70,243.50 456.00,242.18 456.30,244.45 456.60,243.31 456.90,238.36 457.20,253.77 457.50,245.86 457.80,241.32 458.10,254.79 458.40,239.77 458.70,244.11 459.00,257.96 459.30,240.63 459.60,248.36 459.90,257.99 460.20,257.22 460.50,241.40 460.80,246.15 461.10,255.20 461.40,246.73 461.70,260.98 462.00,242.60 462.30,260.80 462.60,249.87 462.90,243.07 463.20,248.59 463.50,240.71 463.80,254.81 464.10,243.89 464.40,259.54 464.70,251.90 465.00,246.52 465.30,243.53 465.60,252.40 465.90,242.71 466.20,258.87 466.50,240.51 466.80,250.07 467.10,250.79 467.40,244.13 467.70,256.41 468.00,246.93 468.30,253.61 468.60,251.41 468.90,245.11 469.20,247.05 469.50,239.61 469.80,241.84 470.10,258.35 470.40,245.37 470.70,253.74 471.00,240.17 471.30,251.27 471.60,246.36 471.90,249.76 472.20,244.78 472.50,239.11 472.80,245.13 473.10,243.05 473.40,240.59 473.70,255.06 474.00,244.42 474.30,247.38 474.60,259.77 474.90,256.49 475.20,259.13 475.50,258.60 475.80,240.74 476.10,244.27 476.40,238.22 476.70,254.15 477.00,253.76 477.30,246.11 477.60,247.61 477.90,253.65 478.20,254.63 478.50,243.59 478.80,258.24 479.10,246.13 479.40,252.91 479.70,241.95 480.00,240.32 480.30,259.86 480.60,255.48 480.90,254.96 481.20,238.49 481.50,238.48 481.80,241.47 482.10,242.35 482.40,244.93 482.70,246.83 483.00,238.46 483.30,245.12 483.60,253.14 483.90,241.90 484.20,258.07 484.50,251.47 484.80,255.06 485.10,243.74 485.40,248.16 485.70,254.27 486.00,246.05 486.30,237.52 486.60,257.94 486.90,256.52 487.20,244.52 487.50,238.55 487.80,258.43 488.10,252.38 488.40,238.66 488.70,243.49 489.00,240.22 489.30,256.89 489.60,242.65 489.90,259.90 490.20,255.86 490.50,239.61 490.80,254.52 491.10,247.14 491.40,255.82 491.70,257.80 492.00,244.39 492.30,239.70 492.60,260.69 492.90,247.89 493.20,260.29 493.50,254.44 493.80,255.60 494.10,257.83 494.40,252.89 494.70,248.59 495.00,238.83 495.30,254.61 495.60,247.99 495.90,250.04 496.20,260.24 496.50,240.63 496.80,256.17 497.10,238.57 497.40,254.72 497.70,257.24 498.00,243.90 498.30,250.89 498.60,261.25 498.90,253.12 499.20,250.83 499.50,243.62 499.80,238.95 500.10,246.27 500.40,247.59 500.70,242.43 501.00,245.11 501.30,240.85 501.60,254.82 501.90,253.92 502.20,243.33 502.50,243.42 502.80,250.13 503.10,248.40 503.40,260.43 503.70,246.11 504.00,244.83 504.30,259.17 504.60,240.98 504.90,251.30 505.20,245.67 505.50,257.48 505.80,250.93 506.10,256.13 506.40,241.65 506.70,253.83 507.00,252.17 507.30,248.80 507.60,256.27 507.90,257.86 508.20,240.30 508.50,244.59 508.80,246.33 509.10,242.56 509.40,238.98 509.70,244.38 510.00,242.33 510.30,254.69 510.60,248.48 510.90,240.27 511.20,245.45 511.50,248.98 511.80,246.39 512.10,241.62 512.40,239.26 512.70,237.76 513.00,261.81 513.30,255.89 513.60,239.56 513.90,255.07 514.20,261.52 514.50,251.31 514.80,240.17 515.10,249.48 515.40,248.14 515.70,242.15 516.00,250.81 516.30,237.70 516.60,260.03 516.90,253.29 517.20,252.88 517.50,260.41 517.80,253.49 518.10,243.66 518.40,243.53 518.70,240.90 519.00,238.18 519.30,256.47 519.60,258.07 519.90,244.76 520.20,242.05 520.50,253.13 520.80,258.22 521.10,260.20 521.40,241.63 521.70,256.72 522.00,257.84 522.30,255.69 522.60,245.50 522.90,242.02 523.20,257.72 523.50,245.34 523.80,246.53 524.10,251.00 524.40,246.55 524.70,257.87 525.00,243.36 525.30,238.51 525.60,251.39 525.90,252.89 526.20,257.58 526.50,254.79 526.80,259.68 527.10,260.65 527.40,249.61 527.70,249.74 528.00,241.36 528.30,244.84 528.60,251.74 528.90,239.47 529.20,254.36 529.50,241.51 529.80,248.36 530.10,261.26 530.40,239.70 530.70,238.48 531.00,248.27 531.30,242.17 531.60,255.21 531.90,237.57 532.20,258.10 532.50,258.46 532.80,256.78 533.10,247.92 533.40,244.44 533.70,253.71 534.00,250.11 534.30,247.82 534.60,245.80 534.90,248.25 535.20,253.82 535.50,257.74 535.80,259.65 536.10,241.53 536.40,244.75 536.70,248.36 537.00,251.30 537.30,246.03 537.60,242.29 537.90,239.58 538.20,245.43 538.50,248.78 538.80,261.30 539.10,259.76 539.40,258.70 539.70,261.37 540.00,261.06 540.30,252.69 540.60,257.37 540.90,238.97 541.20,254.07 541.50,252.42 541.80,244.78 542.10,251.49 542.40,260.84 542.70,249.28 543.00,253.36 543.30,244.83 543.60,245.91 543.90,259.19 544.20,238.18 544.50,242.13 544.80,254.13 545.10,248.46 545.40,239.59 545.70,253.68 546.00,246.61 546.30,251.73 546.60,247.70 546.90,250.48 547.20,251.34 547.50,247.21 547.80,240.30 548.10,241.92 548.40,259.30 548.70,250.93 549.00,240.25 549.30,258.62 549.60,243.71 549.90,239.83 550.20,250.50 550.50,243.66 550.80,249.49 551.10,251.07 551.40,243.05 551.70,251.53 552.00,240.27 552.30,250.07 552.60,251.92 552.90,239.47 553.20,247.50 553.50,239.30 553.80,248.27 554.10,258.66 554.40,250.99 554.70,255.01 555.00,256.04 555.30,240.31 555.60,261.77 555.90,255.18 556.20,240.00 556.50,257.84 556.80,247.10 557.10,241.70 557.40,261.02 557.70,251.29 558.00,256.49 558.30,240.85 558.60,256.52 558.90,238.91 559.20,243.30 559.50,246.62 559.80,237.87 560.10,252.06 560.40,242.72 560.70,244.85 561.00,254.83 561.30,247.94 561.60,259.27 561.90,252.72 562.20,258.87 562.50,251.29 562.80,259.98 563.10,258.83 563.40,241.62 563.70,255.76 564.00,245.86 564.30,256.21 564.60,254.17 564.90,257.73 565.20,240.51 565.50,246.64 565.80,255.56 566.10,260.73 566.40,255.18 566.70,238.57 567.00,252.29 567.30,239.94 567.60,250.95 567.90,257.17 568.20,240.27 568.50,260.17 568.80,254.04 569.10,243.74 569.40,242.23 569.70,248.45 570.00,258.03 570.30,251.74 570.60,240.28 570.90,238.01 571.20,240.21 571.50,257.12 571.80,242.04 572.10,251.08 572.40,244.61 572.70,254.34 573.00,246.83 573.30,241.03 573.60,258.95 573.90,250.69 574.20,254.39 574.50,257.30 574.80,260.74 575.10,237.84 575.40,245.89 575.70,241.20 576.00,249.79 576.30,258.89 576.60,257.11 576.90,238.37 577.20,241.97 577.50,257.55 577.80,254.15 578.10,247.12 578.40,249.16 578.70,241.38 579.00,258.21" fill="none" stroke="#111" stroke-width="0.55" stroke-opacity="1"/><rect x="433.3" y="182.8" width="297.2" height="1" fill="#a0a0a0"/><rect x="433.3" y="198.60000000000002" width="297.2" height="1" fill="#a0a0a0"/><rect x="433.3" y="214.4" width="297.2" height="1" fill="#a0a0a0"/><rect x="433.3" y="230.20000000000002" width="297.2" height="1" fill="#a0a0a0"/><rect x="433.3" y="246.0" width="297.2" height="1" fill="#a0a0a0"/><rect x="433.3" y="261.8" width="297.2" height="1" fill="#707070"/><rect x="445.0" y="180.8" width="1" height="81.5" fill="#707070"/><rect x="445.1" y="260.3" width="0.8" height="2" fill="#707070"/><rect x="468.85" y="260.3" width="0.8" height="2" fill="#707070"/><rect x="492.6" y="260.3" width="0.8" height="2" fill="#707070"/><rect x="516.35" y="260.3" width="0.8" height="2" fill="#707070"/><rect x="540.1" y="260.3" width="0.8" height="2" fill="#707070"/><rect x="563.85" y="260.3" width="0.8" height="2" fill="#707070"/><rect x="587.6" y="260.3" width="0.8" height="2" fill="#707070"/><rect x="611.35" y="260.3" width="0.8" height="2" fill="#707070"/><rect x="635.1" y="260.3" width="0.8" height="2" fill="#707070"/><rect x="658.85" y="260.3" width="0.8" height="2" fill="#707070"/><rect x="682.6" y="260.3" width="0.8" height="2" fill="#707070"/><rect x="706.35" y="260.3" width="0.8" height="2" fill="#707070"/><rect x="730.1" y="260.3" width="0.8" height="2" fill="#707070"/><circle cx="621" cy="174" r="2.3" fill="none" stroke="#333" stroke-width="1.2"/><circle cx="663.6" cy="174" r="2.3" fill="none" stroke="#4aa8f5" stroke-width="1.2"/><circle cx="706" cy="174" r="2.3" fill="none" stroke="#f55" stroke-width="1.2"/></svg>
<div class="t" style="left:414.1px;width:30px;text-align:right;top:177.70000000000002px;font-family:Liberation Mono;font-size:6px;transform:scaleX(0.68);transform-origin:100% 50%;color:#4a4a4a">222.90</div>
<div class="t" style="left:414.1px;width:30px;text-align:right;top:193.50000000000003px;font-family:Liberation Mono;font-size:6px;transform:scaleX(0.68);transform-origin:100% 50%;color:#4a4a4a">222.32</div>
<div class="t" style="left:414.1px;width:30px;text-align:right;top:209.3px;font-family:Liberation Mono;font-size:6px;transform:scaleX(0.68);transform-origin:100% 50%;color:#4a4a4a">221.74</div>
<div class="t" style="left:414.1px;width:30px;text-align:right;top:225.10000000000002px;font-family:Liberation Mono;font-size:6px;transform:scaleX(0.68);transform-origin:100% 50%;color:#4a4a4a">221.16</div>
<div class="t" style="left:414.1px;width:30px;text-align:right;top:240.9px;font-family:Liberation Mono;font-size:6px;transform:scaleX(0.68);transform-origin:100% 50%;color:#4a4a4a">220.58</div>
<div class="t" style="left:414.1px;width:30px;text-align:right;top:256.7px;font-family:Liberation Mono;font-size:6px;transform:scaleX(0.68);transform-origin:100% 50%;color:#4a4a4a">220.00</div>
<div class="t" style="left:432.8px;width:24px;text-align:center;top:264.2px;font-family:Liberation Mono;font-size:6px;transform:scaleX(0.65);color:#555">00:00</div>
<div class="t" style="left:456.55px;width:24px;text-align:center;top:264.2px;font-family:Liberation Mono;font-size:6px;transform:scaleX(0.65);color:#555">02:00</div>
<div class="t" style="left:480.3px;width:24px;text-align:center;top:264.2px;font-family:Liberation Mono;font-size:6px;transform:scaleX(0.65);color:#555">04:00</div>
<div class="t" style="left:504.05px;width:24px;text-align:center;top:264.2px;font-family:Liberation Mono;font-size:6px;transform:scaleX(0.65);color:#555">06:00</div>
<div class="t" style="left:527.8px;width:24px;text-align:center;top:264.2px;font-family:Liberation Mono;font-size:6px;transform:scaleX(0.65);color:#555">08:00</div>
<div class="t" style="left:551.55px;width:24px;text-align:center;top:264.2px;font-family:Liberation Mono;font-size:6px;transform:scaleX(0.65);color:#555">10:00</div>
<div class="t" style="left:575.3px;width:24px;text-align:center;top:264.2px;font-family:Liberation Mono;font-size:6px;transform:scaleX(0.65);color:#555">12:00</div>
<div class="t" style="left:599.05px;width:24px;text-align:center;top:264.2px;font-family:Liberation Mono;font-size:6px;transform:scaleX(0.65);color:#555">14:00</div>
<div class="t" style="left:622.8px;width:24px;text-align:center;top:264.2px;font-family:Liberation Mono;font-size:6px;transform:scaleX(0.65);color:#555">16:00</div>
<div class="t" style="left:646.55px;width:24px;text-align:center;top:264.2px;font-family:Liberation Mono;font-size:6px;transform:scaleX(0.65);color:#555">18:00</div>
<div class="t" style="left:670.3px;width:24px;text-align:center;top:264.2px;font-family:Liberation Mono;font-size:6px;transform:scaleX(0.65);color:#555">20:00</div>
<div class="t" style="left:694.05px;width:24px;text-align:center;top:264.2px;font-family:Liberation Mono;font-size:6px;transform:scaleX(0.65);color:#555">22:00</div>
<div class="t" style="left:717.8px;width:24px;text-align:center;top:264.2px;font-family:Liberation Mono;font-size:6px;transform:scaleX(0.65);color:#555">24:00</div>
<div class="t" style="left:431.5px;top:170.8px;font-size:6.2px;color:#333">24小时电压曲线</div>
<div class="t" style="left:627px;top:171.7px;font-size:5.8px;color:#444">A相电压</div>
<div class="t" style="left:670px;top:171.7px;font-size:5.8px;color:#444">B相电压</div>
<div class="t" style="left:712px;top:171.7px;font-size:5.8px;color:#444">C相电压</div>
<svg class="a" style="left:0;top:0" width="750" height="406"><polyline points="123.50,355.69 123.78,328.99 124.06,335.05 124.34,342.81 124.62,343.81 124.90,331.85 125.18,348.30 125.46,359.47 125.74,346.03 126.02,340.05 126.30,351.22 126.58,347.18 126.86,343.67 127.14,357.88 127.42,319.27 127.70,340.81 127.98,348.65 128.26,358.25 128.54,332.33 128.82,339.87 129.10,352.06 129.38,360.39 129.66,339.46 129.94,344.67 130.22,332.86 130.50,335.20 130.78,329.66 131.06,342.10 131.34,335.40 131.62,346.68 131.90,342.15 132.18,375.03 132.46,350.16 132.74,337.31 133.02,341.73 133.30,326.63 133.58,343.53 133.86,332.19 134.14,357.87 134.42,316.19 134.70,338.82 134.98,334.08 135.26,359.85 135.54,356.64 135.82,350.55 136.10,345.39 136.38,347.79 136.66,343.39 136.94,338.35 137.22,328.56 137.50,332.71 137.78,342.74 138.06,318.34 138.34,369.80 138.62,342.38 138.90,350.34 139.18,356.27 139.46,334.79 139.74,337.30 140.02,361.16 140.30,341.34 140.58,336.21 140.86,354.24 141.14,336.80 141.42,338.81 141.70,340.78 141.98,379.65 142.26,349.10 142.54,345.22 142.82,343.25 143.10,349.64 143.38,366.21 143.66,370.19 143.94,331.76 144.22,342.09 144.50,337.85 144.78,339.83 145.06,341.17 145.34,327.99 145.62,349.64 145.90,316.55 146.18,320.50 146.46,301.77 146.74,341.81 147.02,347.02 147.30,335.53 147.58,345.69 147.86,312.40 148.14,343.66 148.42,340.89 148.70,354.92 148.98,316.08 149.26,341.75 149.54,346.85 149.82,347.70 150.10,357.91 150.38,344.12 150.66,349.18 150.94,334.29 151.22,358.96 151.50,355.86 151.78,356.33 152.06,358.23 152.34,350.54 152.62,359.54 152.90,340.44 153.18,344.62 153.46,356.80 153.74,346.38 154.02,330.28 154.30,348.37 154.58,358.99 154.86,351.21 155.14,339.37 155.42,343.56 155.70,354.84 155.98,353.99 156.26,359.18 156.54,326.17 156.82,334.99 157.10,333.69 157.38,359.72 157.66,368.13 157.94,319.49 158.22,310.48 158.50,368.86 158.78,346.89 159.06,350.78 159.34,349.22 159.62,329.86 159.90,340.89 160.18,324.02 160.46,320.94 160.74,344.40 161.02,342.76 161.30,340.97 161.58,385.22 161.86,347.62 162.14,354.43 162.42,337.42 162.70,353.93 162.98,355.91 163.26,359.44 163.54,331.05 163.82,354.09 164.10,340.68 164.38,358.29 164.66,333.96 164.94,345.13 165.22,344.24 165.50,349.50 165.78,344.49 166.06,346.68 166.34,332.60 166.62,341.84 166.90,357.38 167.18,333.48 167.46,320.56 167.74,359.39 168.02,340.52 168.30,348.66 168.58,352.67 168.86,345.07 169.14,360.09 169.42,347.18 169.70,350.51 169.98,348.34 170.26,343.66 170.54,337.36 170.82,334.84 171.10,363.10 171.38,345.60 171.66,316.70 171.94,326.64 172.22,345.06 172.50,335.14 172.78,331.06 173.06,343.10 173.34,336.33 173.62,335.87 173.90,343.32 174.18,368.65 174.46,333.53 174.74,343.83 175.02,379.82 175.30,332.64 175.58,343.55 175.86,354.75 176.14,362.93 176.42,356.03 176.70,325.60 176.98,333.41 177.26,347.75 177.54,340.54 177.82,353.47 178.10,351.51 178.38,341.14 178.66,346.83 178.94,341.57 179.22,334.58 179.50,345.83 179.78,339.45 180.06,337.74 180.34,344.49 180.62,344.02 180.90,346.87 181.18,351.73 181.46,347.86 181.74,341.95 182.02,352.57 182.30,355.07 182.58,348.83 182.86,356.14 183.14,343.30 183.42,347.80 183.70,343.43 183.98,336.86 184.26,349.19 184.54,336.31 184.82,351.67 185.10,342.35 185.38,334.57 185.66,356.80 185.94,365.26 186.22,333.21 186.50,343.49 186.78,359.56 187.06,347.78 187.34,351.37 187.62,336.20 187.90,334.02 188.18,350.06 188.46,337.13 188.74,330.19 189.02,358.79 189.30,347.70 189.58,319.76 189.86,370.49 190.14,308.50 190.42,327.42 190.70,360.61 190.98,350.94 191.26,360.83 191.54,350.99 191.82,365.08 192.10,345.27 192.38,329.42 192.66,377.29 192.94,346.70 193.22,342.35 193.50,353.02 193.78,334.43 194.06,326.88 194.34,344.74 194.62,350.59 194.90,339.08 195.18,346.63 195.46,333.50 195.74,348.24 196.02,347.76 196.30,338.76 196.58,354.26 196.86,348.42 197.14,336.88 197.42,341.77 197.70,341.18 197.98,361.66 198.26,321.67 198.54,352.49 198.82,356.09 199.10,349.52 199.38,374.32 199.66,351.68 199.94,357.55 200.22,339.11 200.50,338.17 200.78,331.36 201.06,348.64 201.34,340.43 201.62,349.33 201.90,348.31 202.18,332.10 202.46,353.46 202.74,343.08 203.02,360.14 203.30,372.07 203.58,339.83 203.86,337.40 204.14,340.91 204.42,353.50 204.70,340.55 204.98,354.58 205.26,317.18 205.54,333.30 205.82,347.72 206.10,340.48 206.38,358.66 206.66,343.24 206.94,340.78 207.22,379.48 207.50,357.56 207.78,340.68 208.06,345.53 208.34,333.05 208.62,342.20 208.90,334.67 209.18,312.88 209.46,337.86 209.74,349.80 210.02,339.20 210.30,351.90 210.58,331.24 210.86,366.69 211.14,329.32 211.42,345.79 211.70,363.00 211.98,344.30 212.26,349.35 212.54,347.88 212.82,335.75 213.10,344.64 213.38,355.98 213.66,350.13 213.94,338.82 214.22,342.20 214.50,340.07 214.78,335.48 215.06,363.29 215.34,348.30 215.62,349.30 215.90,343.17 216.18,354.32 216.46,353.54 216.74,335.35 217.02,345.07 217.30,347.10 217.58,350.81 217.86,323.15 218.14,381.18 218.42,345.25 218.70,330.83 218.98,338.55 219.26,350.24 219.54,334.43 219.82,352.34 220.10,348.95 220.38,342.67 220.66,330.13 220.94,335.02 221.22,321.89 221.50,348.57 221.78,345.17 222.06,349.34 222.34,336.57 222.62,346.87 222.90,344.75 223.18,341.69 223.46,348.01 223.74,342.87 224.02,340.01 224.30,317.85 224.58,331.35 224.86,370.83 225.14,333.14 225.42,347.08 225.70,345.64 225.98,330.39 226.26,356.07 226.54,361.98 226.82,330.10 227.10,361.01 227.38,342.11 227.66,371.42 227.94,360.01 228.22,335.61 228.50,335.92 228.78,339.39 229.06,351.66 229.34,339.00 229.62,350.47 229.90,343.74 230.18,345.24 230.46,365.78 230.74,337.96 231.02,347.54 231.30,338.89 231.58,330.13 231.86,349.86 232.14,330.00 232.42,341.73 232.70,348.02 232.98,337.88 233.26,357.58 233.54,357.81 233.82,310.40 234.10,345.85 234.38,336.20 234.66,338.31 234.94,333.07 235.22,361.80 235.50,352.69 235.78,349.94 236.06,335.27 236.34,359.05 236.62,370.95 236.90,329.16 237.18,355.23 237.46,342.85 237.74,328.18 238.02,331.13 238.30,357.65 238.58,342.04 238.86,348.57 239.14,339.97 239.42,315.90 239.70,326.94 239.98,350.95 240.26,356.36 240.54,353.48 240.82,328.06 241.10,362.58 241.38,358.70 241.66,352.32 241.94,335.40 242.22,357.43 242.50,329.69 242.78,343.28 243.06,326.46 243.34,371.96 243.62,367.45 243.90,328.73 244.18,351.21 244.46,345.50 244.74,342.66 245.02,382.00 245.30,354.20 245.58,356.65 245.86,334.34 246.14,340.06 246.42,338.80 246.70,334.82 246.98,342.45 247.26,350.90 247.54,330.48 247.82,341.42 248.10,329.74 248.38,327.81 248.66,336.46 248.94,353.67 249.22,355.36 249.50,345.02 249.78,339.02 250.06,326.30 250.34,372.10 250.62,339.89 250.90,352.11 251.18,343.06 251.46,351.91 251.74,350.70 252.02,353.65 252.30,343.60 252.58,326.24 252.86,351.73 253.14,343.08 253.42,351.10 253.70,330.73 253.98,339.79 254.26,330.06 254.54,363.52 254.82,339.87 255.10,339.49 255.38,371.26 255.66,330.23 255.94,365.54 256.22,357.63 256.50,351.20 256.78,329.03" fill="none" stroke="#000" stroke-width="0.45" stroke-opacity="1"/><rect x="111.3" y="301.2" width="297.2" height="1" fill="#a0a0a0"/><rect x="111.3" y="318.09999999999997" width="297.2" height="1" fill="#a0a0a0"/><rect x="111.3" y="335.0" width="297.2" height="1" fill="#a0a0a0"/><rect x="111.3" y="351.9" width="297.2" height="1" fill="#a0a0a0"/><rect x="111.3" y="368.79999999999995" width="297.2" height="1" fill="#a0a0a0"/><rect x="111.3" y="385.7" width="297.2" height="1" fill="#707070"/><rect x="123.0" y="299.2" width="1" height="87.0" fill="#707070"/><rect x="123.1" y="384.2" width="0.8" height="2" fill="#707070"/><rect x="146.85" y="384.2" width="0.8" height="2" fill="#707070"/><rect x="170.6" y="384.2" width="0.8" height="2" fill="#707070"/><rect x="194.35" y="384.2" width="0.8" height="2" fill="#707070"/><rect x="218.1" y="384.2" width="0.8" height="2" fill="#707070"/><rect x="241.85" y="384.2" width="0.8" height="2" fill="#707070"/><rect x="265.6" y="384.2" width="0.8" height="2" fill="#707070"/><rect x="289.35" y="384.2" width="0.8" height="2" fill="#707070"/><rect x="313.1" y="384.2" width="0.8" height="2" fill="#707070"/><rect x="336.85" y="384.2" width="0.8" height="2" fill="#707070"/><rect x="360.6" y="384.2" width="0.8" height="2" fill="#707070"/><rect x="384.35" y="384.2" width="0.8" height="2" fill="#707070"/><rect x="408.1" y="384.2" width="0.8" height="2" fill="#707070"/><circle cx="384" cy="291.9" r="2.3" fill="none" stroke="#222" stroke-width="1.2"/></svg>
<div class="t" style="left:92.1px;width:30px;text-align:right;top:296.09999999999997px;font-family:Liberation Mono;font-size:6px;transform:scaleX(0.68);transform-origin:100% 50%;color:#4a4a4a">80.58</div>
<div class="t" style="left:92.1px;width:30px;text-align:right;top:312.99999999999994px;font-family:Liberation Mono;font-size:6px;transform:scaleX(0.68);transform-origin:100% 50%;color:#4a4a4a">80.44</div>
<div class="t" style="left:92.1px;width:30px;text-align:right;top:329.9px;font-family:Liberation Mono;font-size:6px;transform:scaleX(0.68);transform-origin:100% 50%;color:#4a4a4a">80.30</div>
<div class="t" style="left:92.1px;width:30px;text-align:right;top:346.79999999999995px;font-family:Liberation Mono;font-size:6px;transform:scaleX(0.68);transform-origin:100% 50%;color:#4a4a4a">80.17</div>
<div class="t" style="left:92.1px;width:30px;text-align:right;top:363.69999999999993px;font-family:Liberation Mono;font-size:6px;transform:scaleX(0.68);transform-origin:100% 50%;color:#4a4a4a">80.03</div>
<div class="t" style="left:92.1px;width:30px;text-align:right;top:380.59999999999997px;font-family:Liberation Mono;font-size:6px;transform:scaleX(0.68);transform-origin:100% 50%;color:#4a4a4a">79.89</div>
<div class="t" style="left:110.8px;width:24px;text-align:center;top:388.09999999999997px;font-family:Liberation Mono;font-size:6px;transform:scaleX(0.65);color:#555">00:00</div>
<div class="t" style="left:134.55px;width:24px;text-align:center;top:388.09999999999997px;font-family:Liberation Mono;font-size:6px;transform:scaleX(0.65);color:#555">02:00</div>
<div class="t" style="left:158.3px;width:24px;text-align:center;top:388.09999999999997px;font-family:Liberation Mono;font-size:6px;transform:scaleX(0.65);color:#555">04:00</div>
<div class="t" style="left:182.05px;width:24px;text-align:center;top:388.09999999999997px;font-family:Liberation Mono;font-size:6px;transform:scaleX(0.65);color:#555">06:00</div>
<div class="t" style="left:205.8px;width:24px;text-align:center;top:388.09999999999997px;font-family:Liberation Mono;font-size:6px;transform:scaleX(0.65);color:#555">08:00</div>
<div class="t" style="left:229.55px;width:24px;text-align:center;top:388.09999999999997px;font-family:Liberation Mono;font-size:6px;transform:scaleX(0.65);color:#555">10:00</div>
<div class="t" style="left:253.3px;width:24px;text-align:center;top:388.09999999999997px;font-family:Liberation Mono;font-size:6px;transform:scaleX(0.65);color:#555">12:00</div>
<div class="t" style="left:277.05px;width:24px;text-align:center;top:388.09999999999997px;font-family:Liberation Mono;font-size:6px;transform:scaleX(0.65);color:#555">14:00</div>
<div class="t" style="left:300.8px;width:24px;text-align:center;top:388.09999999999997px;font-family:Liberation Mono;font-size:6px;transform:scaleX(0.65);color:#555">16:00</div>
<div class="t" style="left:324.55px;width:24px;text-align:center;top:388.09999999999997px;font-family:Liberation Mono;font-size:6px;transform:scaleX(0.65);color:#555">18:00</div>
<div class="t" style="left:348.3px;width:24px;text-align:center;top:388.09999999999997px;font-family:Liberation Mono;font-size:6px;transform:scaleX(0.65);color:#555">20:00</div>
<div class="t" style="left:372.05px;width:24px;text-align:center;top:388.09999999999997px;font-family:Liberation Mono;font-size:6px;transform:scaleX(0.65);color:#555">22:00</div>
<div class="t" style="left:395.8px;width:24px;text-align:center;top:388.09999999999997px;font-family:Liberation Mono;font-size:6px;transform:scaleX(0.65);color:#555">24:00</div>
<div class="t" style="left:109.2px;top:288.8px;font-size:6.4px;letter-spacing:0.9px;color:#333">24小时功率曲线</div>
<div class="t" style="left:391px;top:289.2px;font-size:5.8px;letter-spacing:1.2px;color:#555">功率</div>
<svg class="a" style="left:0;top:0" width="750" height="406"><polyline points="445.50,310.46 445.85,327.09 446.20,355.81 446.55,383.22 446.90,354.88 447.25,359.82 447.60,366.84 447.95,334.53 448.30,380.93 448.65,364.11 449.00,330.05 449.35,334.37 449.70,369.49 450.05,330.73 450.40,316.79 450.75,375.09 451.10,346.20 451.45,345.30 451.80,357.90 452.15,377.63 452.50,312.35 452.85,329.79 453.20,306.61 453.55,336.12 453.90,343.68 454.25,373.41 454.60,357.76 454.95,350.11 455.30,335.31 455.65,349.77 456.00,324.27 456.35,372.81 456.70,368.02 457.05,372.26 457.40,313.85 457.75,358.08 458.10,365.10 458.45,343.55 458.80,377.36 459.15,377.40 459.50,364.16 459.85,370.78 460.20,356.15 460.55,375.69 460.90,312.16 461.25,360.85 461.60,360.82 461.95,353.05 462.30,324.38 462.65,306.72 463.00,352.28 463.35,371.06 463.70,324.21 464.05,319.11 464.40,320.03 464.75,308.98 465.10,358.46 465.45,383.86 465.80,369.18 466.15,331.58 466.50,360.45 466.85,307.14 467.20,372.28 467.55,328.64 467.90,301.29 468.25,354.49 468.60,312.79 468.95,324.38 469.30,306.02 469.65,338.88 470.00,348.17 470.35,369.63 470.70,304.37 471.05,371.33 471.40,310.40 471.75,320.08 472.10,354.50 472.45,329.91 472.80,329.14 473.15,349.32 473.50,319.52 473.85,368.44 474.20,318.76 474.55,372.35 474.90,369.74 475.25,346.65 475.60,303.59 475.95,367.14 476.30,303.41 476.65,343.90 477.00,337.03 477.35,306.36 477.70,354.55 478.05,362.59 478.40,350.72 478.75,335.01 479.10,344.53 479.45,351.04 479.80,320.23 480.15,374.75 480.50,385.63 480.85,369.35 481.20,382.71 481.55,329.00 481.90,384.83 482.25,307.07 482.60,341.62 482.95,312.37 483.30,339.59 483.65,359.03 484.00,361.21 484.35,339.65 484.70,330.04 485.05,317.14 485.40,335.24 485.75,325.02 486.10,317.51 486.45,363.56 486.80,344.88 487.15,338.28 487.50,317.80 487.85,360.82 488.20,317.72 488.55,323.58 488.90,348.62 489.25,360.60 489.60,383.71 489.95,364.55 490.30,381.61 490.65,379.20 491.00,362.42 491.35,362.16 491.70,306.33 492.05,318.48 492.40,302.11 492.75,374.40 493.10,362.37 493.45,354.57 493.80,323.42 494.15,331.21 494.50,314.91 494.85,354.74 495.20,385.27 495.55,326.99 495.90,304.76 496.25,315.89 496.60,331.20 496.95,377.41 497.30,369.38 497.65,339.68 498.00,309.68 498.35,310.07 498.70,314.08 499.05,367.08 499.40,341.06 499.75,385.20 500.10,378.50 500.45,368.55 500.80,341.48 501.15,370.86 501.50,311.91 501.85,310.25 502.20,348.89 502.55,344.17 502.90,318.79 503.25,322.41 503.60,302.80 503.95,378.25 504.30,361.37 504.65,381.35 505.00,384.35 505.35,338.12 505.70,363.25 506.05,333.65 506.40,370.01 506.75,372.52 507.10,312.38 507.45,302.09 507.80,319.19 508.15,350.75 508.50,333.21 508.85,301.78 509.20,371.58 509.55,367.81 509.90,340.42 510.25,304.68 510.60,376.57 510.95,346.41 511.30,307.03 511.65,328.49 512.00,354.09 512.35,376.25 512.70,342.18 513.05,355.35 513.40,318.49 513.75,321.69 514.10,377.99 514.45,333.52 514.80,309.84 515.15,351.25 515.50,311.73 515.85,317.99 516.20,339.79 516.55,350.77 516.90,355.09 517.25,361.09 517.60,338.37 517.95,306.74 518.30,362.58 518.65,305.57 519.00,341.01 519.35,335.02 519.70,358.20 520.05,361.67 520.40,321.38 520.75,356.21 521.10,359.82 521.45,341.10 521.80,313.05 522.15,378.27 522.50,351.92 522.85,306.33 523.20,321.28 523.55,384.88 523.90,320.44 524.25,334.35 524.60,367.98 524.95,371.02 525.30,354.88 525.65,364.04 526.00,304.25 526.35,308.97 526.70,383.97 527.05,369.23 527.40,304.24 527.75,305.14 528.10,321.44 528.45,380.11 528.80,319.67 529.15,358.11 529.50,380.08 529.85,355.28 530.20,379.14 530.55,323.35 530.90,314.04 531.25,302.55 531.60,365.36 531.95,309.82 532.30,383.72 532.65,361.35 533.00,316.89 533.35,369.60 533.70,314.84 534.05,344.53 534.40,309.99 534.75,367.89 535.10,376.62 535.45,378.89 535.80,301.19 536.15,373.37 536.50,348.25 536.85,370.81 537.20,343.71 537.55,353.69 537.90,351.54 538.25,368.96 538.60,307.60 538.95,305.61 539.30,347.37 539.65,325.73 540.00,334.74 540.35,301.65 540.70,364.32 541.05,303.05 541.40,371.52 541.75,369.98 542.10,339.93 542.45,311.38 542.80,356.25 543.15,318.61 543.50,337.47 543.85,310.38 544.20,384.00 544.55,347.42 544.90,330.96 545.25,308.99 545.60,363.06 545.95,373.23 546.30,373.11 546.65,309.62 547.00,332.24 547.35,326.73 547.70,365.81 548.05,313.56 548.40,352.55 548.75,384.18 549.10,366.35 549.45,301.59 549.80,307.37 550.15,310.66 550.50,359.86 550.85,351.89 551.20,345.21 551.55,339.73 551.90,335.63 552.25,352.94 552.60,356.13 552.95,378.89 553.30,363.28 553.65,368.71 554.00,378.59 554.35,372.16 554.70,361.92 555.05,303.60 555.40,358.87 555.75,373.25 556.10,337.62 556.45,375.64 556.80,316.28 557.15,381.13 557.50,338.55 557.85,361.05 558.20,322.47 558.55,326.55 558.90,330.62 559.25,328.58 559.60,309.05 559.95,338.64 560.30,384.37 560.65,356.59 561.00,380.24 561.35,365.80 561.70,372.13 562.05,385.51 562.40,364.98 562.75,324.31 563.10,322.23 563.45,336.06 563.80,302.78 564.15,320.62 564.50,376.33 564.85,379.28 565.20,328.94 565.55,366.49 565.90,366.87 566.25,376.63 566.60,368.54 566.95,346.22 567.30,309.91 567.65,371.16 568.00,327.66 568.35,354.29 568.70,332.21 569.05,346.67 569.40,383.08 569.75,314.69 570.10,346.13 570.45,356.24 570.80,346.76 571.15,380.73 571.50,335.64 571.85,378.67 572.20,359.63 572.55,383.23 572.90,308.62 573.25,319.05 573.60,325.43 573.95,378.06 574.30,302.16 574.65,323.12 575.00,361.84 575.35,385.12 575.70,315.98 576.05,338.23 576.40,359.38 576.75,359.70 577.10,364.41 577.45,365.02 577.80,322.12 578.15,322.86 578.50,303.35 578.85,359.75 579.20,318.78 579.55,323.06 579.90,382.97" fill="none" stroke="#ff3030" stroke-width="0.55" stroke-opacity="0.95"/><rect x="433.3" y="301.2" width="297.2" height="1" fill="#a0a0a0"/><rect x="433.3" y="318.09999999999997" width="297.2" height="1" fill="#a0a0a0"/><rect x="433.3" y="335.0" width="297.2" height="1" fill="#a0a0a0"/><rect x="433.3" y="351.9" width="297.2" height="1" fill="#a0a0a0"/><rect x="433.3" y="368.79999999999995" width="297.2" height="1" fill="#a0a0a0"/><rect x="433.3" y="385.7" width="297.2" height="1" fill="#707070"/><rect x="445.0" y="299.2" width="1" height="87.0" fill="#707070"/><rect x="445.1" y="384.2" width="0.8" height="2" fill="#707070"/><rect x="468.85" y="384.2" width="0.8" height="2" fill="#707070"/><rect x="492.6" y="384.2" width="0.8" height="2" fill="#707070"/><rect x="516.35" y="384.2" width="0.8" height="2" fill="#707070"/><rect x="540.1" y="384.2" width="0.8" height="2" fill="#707070"/><rect x="563.85" y="384.2" width="0.8" height="2" fill="#707070"/><rect x="587.6" y="384.2" width="0.8" height="2" fill="#707070"/><rect x="611.35" y="384.2" width="0.8" height="2" fill="#707070"/><rect x="635.1" y="384.2" width="0.8" height="2" fill="#707070"/><rect x="658.85" y="384.2" width="0.8" height="2" fill="#707070"/><rect x="682.6" y="384.2" width="0.8" height="2" fill="#707070"/><rect x="706.35" y="384.2" width="0.8" height="2" fill="#707070"/><rect x="730.1" y="384.2" width="0.8" height="2" fill="#707070"/><circle cx="706.4" cy="291.7" r="2.3" fill="none" stroke="#f44" stroke-width="1.2"/></svg>
<div class="t" style="left:414.1px;width:30px;text-align:right;top:296.09999999999997px;font-family:Liberation Mono;font-size:6px;transform:scaleX(0.68);transform-origin:100% 50%;color:#4a4a4a">5707.90</div>
<div class="t" style="left:414.1px;width:30px;text-align:right;top:312.99999999999994px;font-family:Liberation Mono;font-size:6px;transform:scaleX(0.68);transform-origin:100% 50%;color:#4a4a4a">5705.92</div>
<div class="t" style="left:414.1px;width:30px;text-align:right;top:329.9px;font-family:Liberation Mono;font-size:6px;transform:scaleX(0.68);transform-origin:100% 50%;color:#4a4a4a">5703.94</div>
<div class="t" style="left:414.1px;width:30px;text-align:right;top:346.79999999999995px;font-family:Liberation Mono;font-size:6px;transform:scaleX(0.68);transform-origin:100% 50%;color:#4a4a4a">5701.96</div>
<div class="t" style="left:414.1px;width:30px;text-align:right;top:363.69999999999993px;font-family:Liberation Mono;font-size:6px;transform:scaleX(0.68);transform-origin:100% 50%;color:#4a4a4a">5699.98</div>
<div class="t" style="left:414.1px;width:30px;text-align:right;top:380.59999999999997px;font-family:Liberation Mono;font-size:6px;transform:scaleX(0.68);transform-origin:100% 50%;color:#4a4a4a">5698.00</div>
<div class="t" style="left:432.8px;width:24px;text-align:center;top:388.09999999999997px;font-family:Liberation Mono;font-size:6px;transform:scaleX(0.65);color:#555">00:00</div>
<div class="t" style="left:456.55px;width:24px;text-align:center;top:388.09999999999997px;font-family:Liberation Mono;font-size:6px;transform:scaleX(0.65);color:#555">02:00</div>
<div class="t" style="left:480.3px;width:24px;text-align:center;top:388.09999999999997px;font-family:Liberation Mono;font-size:6px;transform:scaleX(0.65);color:#555">04:00</div>
<div class="t" style="left:504.05px;width:24px;text-align:center;top:388.09999999999997px;font-family:Liberation Mono;font-size:6px;transform:scaleX(0.65);color:#555">06:00</div>
<div class="t" style="left:527.8px;width:24px;text-align:center;top:388.09999999999997px;font-family:Liberation Mono;font-size:6px;transform:scaleX(0.65);color:#555">08:00</div>
<div class="t" style="left:551.55px;width:24px;text-align:center;top:388.09999999999997px;font-family:Liberation Mono;font-size:6px;transform:scaleX(0.65);color:#555">10:00</div>
<div class="t" style="left:575.3px;width:24px;text-align:center;top:388.09999999999997px;font-family:Liberation Mono;font-size:6px;transform:scaleX(0.65);color:#555">12:00</div>
<div class="t" style="left:599.05px;width:24px;text-align:center;top:388.09999999999997px;font-family:Liberation Mono;font-size:6px;transform:scaleX(0.65);color:#555">14:00</div>
<div class="t" style="left:622.8px;width:24px;text-align:center;top:388.09999999999997px;font-family:Liberation Mono;font-size:6px;transform:scaleX(0.65);color:#555">16:00</div>
<div class="t" style="left:646.55px;width:24px;text-align:center;top:388.09999999999997px;font-family:Liberation Mono;font-size:6px;transform:scaleX(0.65);color:#555">18:00</div>
<div class="t" style="left:670.3px;width:24px;text-align:center;top:388.09999999999997px;font-family:Liberation Mono;font-size:6px;transform:scaleX(0.65);color:#555">20:00</div>
<div class="t" style="left:694.05px;width:24px;text-align:center;top:388.09999999999997px;font-family:Liberation Mono;font-size:6px;transform:scaleX(0.65);color:#555">22:00</div>
<div class="t" style="left:717.8px;width:24px;text-align:center;top:388.09999999999997px;font-family:Liberation Mono;font-size:6px;transform:scaleX(0.65);color:#555">24:00</div>
<div class="a" style="left:431.5px;top:286px;width:47px;height:8.8px;background:#e3e3e3;border:0.6px solid #cfcfcf;border-radius:1px"></div>
<div class="t" style="left:433.1px;top:289.3px;font-size:5.1px;font-weight:normal;color:#111;-webkit-text-stroke:0px #111">24小时耗电曲线</div>
<svg class="a" style="left:472.3px;top:290.1px" width="5" height="3"><path d="M0.4 0.4 L2 1.9 L3.6 0.4" fill="none" stroke="#666" stroke-width="0.7"/></svg>
<div class="a" style="left:482.3px;top:286px;width:117.4px;height:9px;background:#e9e9e9;border:0.5px solid #b4b4b4"></div>
<div class="t" style="left:484.2px;top:287.7px;font-size:5.8px;transform:scaleX(0.86);transform-origin:0 50%;color:#222">2021-04-22 00:00:00至2021-04-22 23:59:59</div>
<div class="a" style="left:604px;top:286px;width:15px;height:9px;background:#e1e1e1;border:0.5px solid #adadad"></div>
<div class="a" style="left:618.7px;top:286px;width:16px;height:9px;background:#e1e1e1;border:0.5px solid #adadad"></div>
<div class="t" style="left:606px;top:288.2px;font-size:5px;color:#222">向前</div>
<div class="t" style="left:621px;top:288.2px;font-size:5px;color:#222">往后</div>
<div class="t" style="left:713px;top:289.2px;font-size:5.8px;letter-spacing:1.2px;color:#555">耗电</div>
</body></html>
